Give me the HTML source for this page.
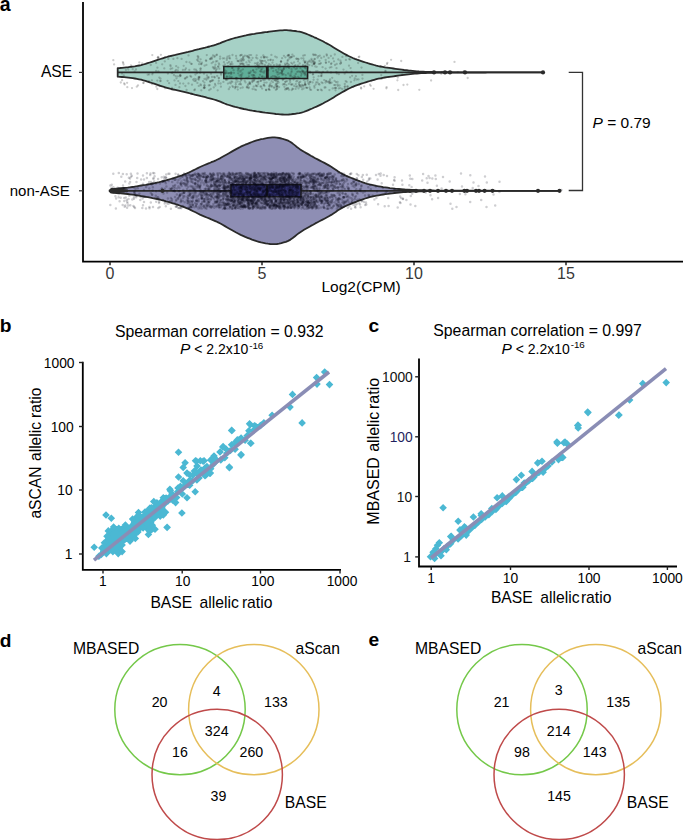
<!DOCTYPE html><html><head><meta charset="utf-8"><style>html,body{margin:0;padding:0;background:#fff;}body{width:685px;height:840px;overflow:hidden}svg{display:block}text{font-family:"Liberation Sans",sans-serif}</style></head><body>
<svg width="685" height="840" viewBox="0 0 685 840">
<rect width="685" height="840" fill="#fff"/>
<text x="-0.3" y="10.8" font-size="19.5" font-weight="bold" fill="#000">a</text>
<path d="M117.7,68.1 L119.8,68 L122,67.8 L124.1,67.6 L126.2,67.4 L128.4,67.2 L130.5,66.9 L132.7,66.6 L134.8,66.3 L136.9,65.9 L139.1,65.5 L141.2,65.1 L143.3,64.5 L145.5,63.9 L147.6,63.2 L149.8,62.5 L151.9,61.8 L154,61.1 L156.2,60.4 L158.3,59.7 L160.4,59 L162.6,58.3 L164.7,57.6 L166.9,57 L169,56.4 L171.1,55.8 L173.3,55.3 L175.4,54.9 L177.5,54.4 L179.7,53.9 L181.8,53.4 L184,52.9 L186.1,52.4 L188.2,51.9 L190.4,51.3 L192.5,50.8 L194.6,50.2 L196.8,49.7 L198.9,49.2 L201.1,48.6 L203.2,48.1 L205.3,47.6 L207.5,47 L209.6,46.5 L211.7,45.9 L213.9,45.3 L216,44.7 L218.1,43.9 L220.3,43.1 L222.4,42.2 L224.6,41.3 L226.7,40.5 L228.8,39.8 L231,39.1 L233.1,38.5 L235.2,37.9 L237.4,37.4 L239.5,36.8 L241.7,36.3 L243.8,35.8 L245.9,35.4 L248.1,34.9 L250.2,34.5 L252.3,34.1 L254.5,33.8 L256.6,33.4 L258.8,33.1 L260.9,32.8 L263,32.5 L265.2,32.2 L267.3,32 L269.4,31.7 L271.6,31.4 L273.7,31.1 L275.9,30.8 L278,30.6 L280.1,30.4 L282.3,30.3 L284.4,30.2 L286.5,30.2 L288.7,30.3 L290.8,30.5 L292.9,30.8 L295.1,31 L297.2,31.4 L299.4,31.7 L301.5,32.2 L303.6,32.8 L305.8,33.6 L307.9,34.5 L310,35.4 L312.2,36.3 L314.3,37.3 L316.5,38.2 L318.6,39.2 L320.7,40.2 L322.9,41.3 L325,42.5 L327.1,43.6 L329.3,44.8 L331.4,46 L333.6,47.4 L335.7,48.7 L337.8,50 L340,51.3 L342.1,52.5 L344.2,53.7 L346.4,54.9 L348.5,56 L350.7,57 L352.8,58 L354.9,58.9 L357.1,59.7 L359.2,60.4 L361.3,61.1 L363.5,61.8 L365.6,62.5 L367.8,63.2 L369.9,63.8 L372,64.4 L374.2,65 L376.3,65.6 L378.4,66.1 L380.6,66.5 L382.7,66.9 L384.8,67.3 L387,67.6 L389.1,67.9 L391.3,68.2 L393.4,68.5 L395.5,68.8 L397.7,69.1 L399.8,69.4 L401.9,69.7 L404.1,70 L406.2,70.2 L408.4,70.5 L410.5,70.7 L412.6,70.9 L414.8,71.1 L416.9,71.3 L419,71.5 L421.2,71.6 L423.3,71.7 L425.5,71.8 L427.6,71.9 L429.7,72 L431.9,72 L434,72.1 L436.1,72.2 L438.3,72.2 L440.4,72.2 L442.6,72.2 L444.7,72.2 L446.8,72.2 L449,72.2 L451.1,72.2 L453.2,72.3 L455.4,72.3 L457.5,72.3 L459.6,72.3 L461.8,72.3 L463.9,72.3 L466.1,72.3 L468.2,72.3 L470.3,72.3 L472.5,72.3 L474.6,72.3 L476.7,72.3 L478.9,72.3 L481,72.3 L483.2,72.3 L485.3,72.3 L487.4,72.4 L489.6,72.4 L491.7,72.4 L493.8,72.4 L496,72.4 L498.1,72.4 L500.3,72.4 L502.4,72.4 L504.5,72.4 L506.7,72.4 L508.8,72.4 L510.9,72.4 L513.1,72.4 L515.2,72.4 L517.4,72.4 L519.5,72.4 L521.6,72.4 L523.8,72.4 L525.9,72.4 L528,72.4 L530.2,72.4 L532.3,72.4 L534.5,72.4 L536.6,72.4 L538.7,72.4 L540.9,72.4 L543,72.4 L543,72.4 L540.9,72.4 L538.7,72.4 L536.6,72.4 L534.5,72.4 L532.3,72.4 L530.2,72.4 L528,72.4 L525.9,72.4 L523.8,72.4 L521.6,72.4 L519.5,72.4 L517.4,72.4 L515.2,72.4 L513.1,72.4 L510.9,72.4 L508.8,72.4 L506.7,72.4 L504.5,72.4 L502.4,72.4 L500.3,72.4 L498.1,72.4 L496,72.4 L493.8,72.4 L491.7,72.4 L489.6,72.4 L487.4,72.4 L485.3,72.5 L483.2,72.5 L481,72.5 L478.9,72.5 L476.7,72.5 L474.6,72.5 L472.5,72.5 L470.3,72.5 L468.2,72.5 L466.1,72.5 L463.9,72.5 L461.8,72.5 L459.6,72.5 L457.5,72.5 L455.4,72.5 L453.2,72.5 L451.1,72.6 L449,72.6 L446.8,72.6 L444.7,72.6 L442.6,72.6 L440.4,72.6 L438.3,72.6 L436.1,72.6 L434,72.7 L431.9,72.8 L429.7,72.8 L427.6,72.9 L425.5,73 L423.3,73.1 L421.2,73.2 L419,73.3 L416.9,73.5 L414.8,73.7 L412.6,73.9 L410.5,74.1 L408.4,74.3 L406.2,74.6 L404.1,74.8 L401.9,75.1 L399.8,75.4 L397.7,75.7 L395.5,76 L393.4,76.3 L391.3,76.6 L389.1,76.9 L387,77.2 L384.8,77.5 L382.7,77.9 L380.6,78.3 L378.4,78.7 L376.3,79.2 L374.2,79.8 L372,80.4 L369.9,81 L367.8,81.6 L365.6,82.3 L363.5,83 L361.3,83.7 L359.2,84.4 L357.1,85.1 L354.9,85.9 L352.8,86.8 L350.7,87.8 L348.5,88.8 L346.4,89.9 L344.2,91.1 L342.1,92.3 L340,93.5 L337.8,94.8 L335.7,96.1 L333.6,97.4 L331.4,98.8 L329.3,100 L327.1,101.2 L325,102.3 L322.9,103.5 L320.7,104.6 L318.6,105.6 L316.5,106.6 L314.3,107.5 L312.2,108.5 L310,109.4 L307.9,110.3 L305.8,111.2 L303.6,112 L301.5,112.6 L299.4,113.1 L297.2,113.4 L295.1,113.8 L292.9,114 L290.8,114.3 L288.7,114.5 L286.5,114.6 L284.4,114.6 L282.3,114.5 L280.1,114.4 L278,114.2 L275.9,114 L273.7,113.7 L271.6,113.4 L269.4,113.1 L267.3,112.8 L265.2,112.6 L263,112.3 L260.9,112 L258.8,111.7 L256.6,111.4 L254.5,111 L252.3,110.7 L250.2,110.3 L248.1,109.9 L245.9,109.4 L243.8,109 L241.7,108.5 L239.5,108 L237.4,107.4 L235.2,106.9 L233.1,106.3 L231,105.7 L228.8,105 L226.7,104.3 L224.6,103.5 L222.4,102.6 L220.3,101.7 L218.1,100.9 L216,100.1 L213.9,99.5 L211.7,98.9 L209.6,98.3 L207.5,97.8 L205.3,97.2 L203.2,96.7 L201.1,96.2 L198.9,95.6 L196.8,95.1 L194.6,94.6 L192.5,94 L190.4,93.5 L188.2,92.9 L186.1,92.4 L184,91.9 L181.8,91.4 L179.7,90.9 L177.5,90.4 L175.4,89.9 L173.3,89.5 L171.1,89 L169,88.4 L166.9,87.8 L164.7,87.2 L162.6,86.5 L160.4,85.8 L158.3,85.1 L156.2,84.4 L154,83.7 L151.9,83 L149.8,82.3 L147.6,81.6 L145.5,80.9 L143.3,80.3 L141.2,79.7 L139.1,79.3 L136.9,78.9 L134.8,78.5 L132.7,78.2 L130.5,77.9 L128.4,77.6 L126.2,77.4 L124.1,77.2 L122,77 L119.8,76.8 L117.7,76.7Z" fill="#a6d1c6" stroke="#2a2a2a" stroke-width="1.8" stroke-linejoin="round"/>
<path d="M109.6,190.3 L111.9,189.6 L114.1,189 L116.4,188.6 L118.6,188.4 L120.9,188.2 L123.2,188 L125.4,187.8 L127.7,187.6 L129.9,187.3 L132.2,187 L134.5,186.7 L136.7,186.3 L139,185.9 L141.3,185.5 L143.5,185.1 L145.8,184.8 L148,184.4 L150.3,184 L152.6,183.5 L154.8,183.1 L157.1,182.6 L159.3,182.1 L161.6,181.5 L163.9,181 L166.1,180.3 L168.4,179.7 L170.6,179 L172.9,178.3 L175.2,177.6 L177.4,176.9 L179.7,176.1 L181.9,175.3 L184.2,174.4 L186.5,173.5 L188.7,172.6 L191,171.5 L193.2,170.4 L195.5,169.3 L197.8,168.1 L200,167 L202.3,166 L204.6,165 L206.8,164.1 L209.1,163.2 L211.3,162.2 L213.6,161.3 L215.9,160.3 L218.1,159.2 L220.4,158.1 L222.6,156.8 L224.9,155.5 L227.2,154.2 L229.4,152.9 L231.7,151.6 L233.9,150.4 L236.2,149.1 L238.5,147.9 L240.7,146.7 L243,145.7 L245.2,144.7 L247.5,143.8 L249.8,142.9 L252,142 L254.3,141.2 L256.6,140.4 L258.8,139.8 L261.1,139.2 L263.3,138.8 L265.6,138.3 L267.9,137.9 L270.1,137.6 L272.4,137.4 L274.6,137.4 L276.9,137.6 L279.2,138 L281.4,138.5 L283.7,139.2 L285.9,139.8 L288.2,140.7 L290.5,142 L292.7,143.6 L295,145.4 L297.2,147.2 L299.5,148.9 L301.8,150.4 L304,151.8 L306.3,153.1 L308.6,154.4 L310.8,155.7 L313.1,156.9 L315.3,158.2 L317.6,159.4 L319.9,160.6 L322.1,161.7 L324.4,162.9 L326.6,164.1 L328.9,165.4 L331.2,166.7 L333.4,168.2 L335.7,169.7 L337.9,171.3 L340.2,172.7 L342.5,174 L344.7,175.1 L347,176.2 L349.2,177.1 L351.5,178 L353.8,178.9 L356,179.8 L358.3,180.7 L360.5,181.5 L362.8,182.3 L365.1,183.1 L367.3,183.8 L369.6,184.4 L371.9,184.9 L374.1,185.4 L376.4,185.9 L378.6,186.3 L380.9,186.7 L383.2,187.1 L385.4,187.4 L387.7,187.7 L389.9,188.1 L392.2,188.3 L394.5,188.6 L396.7,188.8 L399,189 L401.2,189.2 L403.5,189.4 L405.8,189.6 L408,189.7 L410.3,189.8 L412.5,189.9 L414.8,190 L417.1,190.1 L419.3,190.2 L421.6,190.2 L423.9,190.3 L426.1,190.4 L428.4,190.4 L430.6,190.5 L432.9,190.5 L435.2,190.6 L437.4,190.6 L439.7,190.6 L441.9,190.6 L444.2,190.6 L446.5,190.6 L448.7,190.6 L451,190.6 L453.2,190.6 L455.5,190.7 L457.8,190.7 L460,190.7 L462.3,190.7 L464.5,190.7 L466.8,190.7 L469.1,190.7 L471.3,190.7 L473.6,190.7 L475.9,190.7 L478.1,190.7 L480.4,190.7 L482.6,190.7 L484.9,190.7 L487.2,190.7 L489.4,190.7 L491.7,190.7 L493.9,190.7 L496.2,190.8 L498.5,190.8 L500.7,190.8 L503,190.8 L505.2,190.8 L507.5,190.8 L509.8,190.8 L512,190.8 L514.3,190.8 L516.5,190.8 L518.8,190.8 L521.1,190.8 L523.3,190.8 L525.6,190.8 L527.8,190.8 L530.1,190.8 L532.4,190.8 L534.6,190.8 L536.9,190.8 L539.2,190.8 L541.4,190.8 L543.7,190.8 L545.9,190.8 L548.2,190.8 L550.5,190.8 L552.7,190.8 L555,190.8 L557.2,190.8 L559.5,190.8 L559.5,190.8 L557.2,190.8 L555,190.8 L552.7,190.8 L550.5,190.8 L548.2,190.8 L545.9,190.8 L543.7,190.8 L541.4,190.8 L539.2,190.8 L536.9,190.8 L534.6,190.8 L532.4,190.8 L530.1,190.8 L527.8,190.8 L525.6,190.8 L523.3,190.8 L521.1,190.8 L518.8,190.8 L516.5,190.8 L514.3,190.8 L512,190.8 L509.8,190.8 L507.5,190.8 L505.2,190.8 L503,190.8 L500.7,190.8 L498.5,190.8 L496.2,190.8 L493.9,190.9 L491.7,190.9 L489.4,190.9 L487.2,190.9 L484.9,190.9 L482.6,190.9 L480.4,190.9 L478.1,190.9 L475.9,190.9 L473.6,190.9 L471.3,190.9 L469.1,190.9 L466.8,190.9 L464.5,190.9 L462.3,190.9 L460,190.9 L457.8,190.9 L455.5,190.9 L453.2,191 L451,191 L448.7,191 L446.5,191 L444.2,191 L441.9,191 L439.7,191 L437.4,191 L435.2,191 L432.9,191.1 L430.6,191.1 L428.4,191.2 L426.1,191.2 L423.9,191.3 L421.6,191.4 L419.3,191.4 L417.1,191.5 L414.8,191.6 L412.5,191.7 L410.3,191.8 L408,191.9 L405.8,192 L403.5,192.2 L401.2,192.4 L399,192.6 L396.7,192.8 L394.5,193 L392.2,193.3 L389.9,193.5 L387.7,193.9 L385.4,194.2 L383.2,194.5 L380.9,194.9 L378.6,195.3 L376.4,195.7 L374.1,196.2 L371.9,196.7 L369.6,197.2 L367.3,197.8 L365.1,198.5 L362.8,199.3 L360.5,200.1 L358.3,200.9 L356,201.8 L353.8,202.7 L351.5,203.6 L349.2,204.5 L347,205.4 L344.7,206.5 L342.5,207.6 L340.2,208.9 L337.9,210.3 L335.7,211.9 L333.4,213.4 L331.2,214.9 L328.9,216.2 L326.6,217.5 L324.4,218.7 L322.1,219.9 L319.9,221 L317.6,222.2 L315.3,223.4 L313.1,224.7 L310.8,225.9 L308.6,227.2 L306.3,228.5 L304,229.8 L301.8,231.2 L299.5,232.7 L297.2,234.4 L295,236.2 L292.7,238 L290.5,239.6 L288.2,240.9 L285.9,241.8 L283.7,242.4 L281.4,243.1 L279.2,243.6 L276.9,244 L274.6,244.2 L272.4,244.2 L270.1,244 L267.9,243.7 L265.6,243.3 L263.3,242.8 L261.1,242.4 L258.8,241.8 L256.6,241.2 L254.3,240.4 L252,239.6 L249.8,238.7 L247.5,237.8 L245.2,236.9 L243,235.9 L240.7,234.9 L238.5,233.7 L236.2,232.5 L233.9,231.2 L231.7,230 L229.4,228.7 L227.2,227.4 L224.9,226.1 L222.6,224.8 L220.4,223.5 L218.1,222.4 L215.9,221.3 L213.6,220.3 L211.3,219.4 L209.1,218.4 L206.8,217.5 L204.6,216.6 L202.3,215.6 L200,214.6 L197.8,213.5 L195.5,212.3 L193.2,211.2 L191,210.1 L188.7,209 L186.5,208.1 L184.2,207.2 L181.9,206.3 L179.7,205.5 L177.4,204.7 L175.2,204 L172.9,203.3 L170.6,202.6 L168.4,201.9 L166.1,201.3 L163.9,200.6 L161.6,200.1 L159.3,199.5 L157.1,199 L154.8,198.5 L152.6,198.1 L150.3,197.6 L148,197.2 L145.8,196.8 L143.5,196.5 L141.3,196.1 L139,195.7 L136.7,195.3 L134.5,194.9 L132.2,194.6 L129.9,194.3 L127.7,194 L125.4,193.8 L123.2,193.6 L120.9,193.4 L118.6,193.2 L116.4,193 L114.1,192.6 L111.9,192 L109.6,191.3Z" fill="#8e8eb4" stroke="#2a2a2a" stroke-width="1.8" stroke-linejoin="round"/>
<line x1="117.7" y1="72.4" x2="543" y2="72.4" stroke="#2a2a2a" stroke-width="1.8"/>
<line x1="109.6" y1="190.8" x2="559.5" y2="190.8" stroke="#2a2a2a" stroke-width="1.8"/>
<rect x="223.8" y="66.5" width="83.8" height="12" fill="#5fae98" stroke="#222" stroke-width="1.5"/>
<line x1="267.3" y1="66.5" x2="267.3" y2="78.5" stroke="#222" stroke-width="2.8"/>
<rect x="231" y="184.7" width="70" height="12.1" fill="#3a3a82" stroke="#222" stroke-width="1.5"/>
<line x1="267" y1="184.7" x2="267" y2="196.8" stroke="#222" stroke-width="2.2"/>
<g stroke="#1a1a1a" stroke-opacity="0.22" stroke-width="2.3" stroke-linecap="round" fill="none"><path d="M124.2 83.4h0M359.3 56.7h0M131.4 66.6h0"/><path d="M397.4 80.3h0M139.3 62.4h0M114.1 64.4h0"/><path d="M386.4 88.3h0M157.9 57.8h0M122.9 62.1h0"/><path d="M136.8 86.7h0M419.3 89.8h0M113.3 60.2h0"/><path d="M168.5 56.2h0M138 85.4h0M454.5 61.9h0"/><path d="M370.8 85.8h0M143.7 82.8h0M467.7 78h0"/><path d="M152.1 84.2h0M120.8 82.5h0M388.8 77.1h0"/><path d="M361 87.7h0M123.6 64.6h0M384.9 65.9h0"/><path d="M123.2 63.2h0M361.2 88.5h0M380.3 66.4h0"/><path d="M142.2 63.4h0M160.9 54.8h0M463.9 71.1h0"/><path d="M371.2 81.1h0M373.6 88.8h0M386.6 87.2h0"/><path d="M364.2 86.3h0M158.1 56.8h0M441.2 73.8h0"/><path d="M165 88.3h0M387.4 62.8h0M407.3 84.6h0"/><path d="M158.7 57.7h0M359.3 84.8h0M397.8 77.5h0"/><path d="M143.2 83.1h0M387 64h0M442.1 72h0"/><path d="M165.1 57.1h0M161.6 86.3h0M381.6 78.9h0"/><path d="M152.3 55.1h0M159.5 86h0M457.8 72.1h0"/><path d="M403.5 85h0M130.9 65.5h0M431.1 80.5h0"/><path d="M157.8 57.6h0M358.7 57.1h0M401.2 61h0"/><path d="M391.1 59.8h0M127.1 82.8h0"/><path d="M156.3 86.7h0M122.1 80.2h0"/><path d="M398.2 90h0M132 88.1h0"/><path d="M157.3 89h0M127.3 87.2h0"/><path d="M370 84.7h0M124.7 84.4h0"/></g>
<g stroke="#1a1a1a" stroke-opacity="0.22" stroke-width="2.3" stroke-linecap="round" fill="none"><path d="M285.7 75.2h0M337.6 84.4h0M250.2 84h0M280.6 73.1h0M326.3 81.5h0M346.7 81.9h0M241.2 77.2h0M334.2 85.1h0M355.9 76.2h0M326.6 54.5h0M303.4 58.5h0M245.5 82.4h0M249.6 62.2h0M306.9 87.8h0M291 57.6h0M224.8 64.5h0M315 62.5h0M338.8 88.4h0M303.8 80.1h0M243.5 56.6h0M212 77h0M254.4 78.1h0M354.4 80.3h0M330.1 79.5h0M237.9 70.5h0M322.6 83.1h0M325.5 82.5h0M325.6 68.6h0M281.1 69.7h0M213.2 62h0M232.3 81.9h0M200.6 68.9h0M306.2 68.7h0M238.5 70.5h0M232.5 55h0M241.2 80h0"/><path d="M332.7 88.4h0M288.7 67.3h0M241.3 79.4h0M198.2 79.1h0M243.5 65.1h0M278.4 65.4h0M253.7 86.7h0M311.5 58.8h0M322.6 67.2h0M331.6 82.7h0M282.1 58.2h0M171.2 56.1h0M256.7 55.3h0M213.1 80.3h0M231.8 77.1h0M261.8 63.1h0M295.8 74h0M159.3 77.6h0M248.5 57h0M260.9 80.8h0M243 69.3h0M307.2 87.8h0M150.8 65h0M192 84.7h0M260 74.8h0M180 83.4h0M258.4 66.6h0M271.2 77.2h0M266.2 90h0M263.8 57.1h0M167.6 80.8h0M298 61.3h0M331.5 63.3h0M305.6 74.1h0M286.6 89.2h0M151.9 80.3h0"/><path d="M309.4 65.1h0M270.4 83.4h0M204.2 87.2h0M212.2 57.5h0M281.9 71.2h0M239.6 75.5h0M216 70.4h0M324 56.7h0M241.6 59.2h0M206.4 78.4h0M236.2 77.9h0M271.6 81.2h0M319.5 60.9h0M334.6 80.9h0M272.9 82.2h0M328.6 57.9h0M290.4 79.5h0M261.3 86.6h0M261.2 57.4h0M249 64.9h0M298.6 59.3h0M296.1 86.7h0M210 59.1h0M240.4 59.9h0M341 62.4h0M231.7 62.2h0M234 72.9h0M249.7 83.6h0M207.9 77.1h0M340.7 63.3h0M217.7 90.3h0M264.1 57.8h0M228.6 73.1h0M250.8 71.5h0M385.5 70.9h0M218.8 78.3h0"/><path d="M220.6 83.5h0M266.6 82.6h0M314.4 64.1h0M342.2 89h0M295.8 84.1h0M231.2 72.3h0M169.1 83.2h0M272.5 62.7h0M240.3 71.7h0M289.7 56.9h0M178.3 81.1h0M305.3 79.3h0M275.6 85.3h0M218.2 66.6h0M233.1 87.1h0M305.6 66.1h0M351.4 71.8h0M289.1 64.8h0M305 82.2h0M278.8 69.7h0M310.1 81.8h0M214.6 56h0M206.8 55.1h0M156.1 62.9h0M230.7 64h0M305.1 84.4h0M239.2 61.4h0M307.2 76.5h0M285.7 81.6h0M171.9 73.1h0M195.4 74.5h0M197.7 56.2h0M260.3 71.2h0M240.2 55.6h0M349.2 59.2h0M152.3 74.3h0"/><path d="M236.4 58.5h0M226.4 71.3h0M250 82.7h0M276.8 72.4h0M244.9 55.7h0M350.1 59.6h0M215.5 64.6h0M336.3 72.1h0M191.7 63.9h0M218.8 80.9h0M307.8 67.7h0M211.8 58.9h0M252.5 80.2h0M304.9 84.7h0M271.8 67.5h0M321.6 82.3h0M260.5 67.1h0M275.8 89.8h0M267.5 76.4h0M350.1 77.3h0M167.9 73.6h0M201.1 64h0M264.9 65h0M321.3 75.9h0M331 64h0M282.5 74.9h0M177.8 76.3h0M176.5 78.3h0M313.9 55.1h0M207 75.5h0M262 60.8h0M362.5 78.6h0M345.1 86.3h0M287.7 64h0M269.6 89.9h0M195.7 81.1h0"/><path d="M326 80.8h0M213.7 68.2h0M280.1 67.2h0M211.7 63.2h0M270.6 64.9h0M258.5 81.6h0M336.8 73.4h0M157.3 80.6h0M285.2 82h0M276.8 78.6h0M200.6 68.4h0M229 73.3h0M276.8 81.4h0M172.3 68.3h0M288 88.2h0M304.8 55.2h0M256.6 63.3h0M177.4 58.2h0M240.6 63.9h0M330.9 56h0M303.8 60.7h0M238.6 68.4h0M260.5 86.5h0M336 88.1h0M292.4 63.8h0M237.2 78.5h0M219.3 68.7h0M229.5 76.5h0M198.2 58.5h0M264.5 86h0M248.9 76.3h0M294.7 66.1h0M346.2 56.2h0M210.7 89h0M284.4 83.8h0M285.4 57.3h0"/><path d="M315.7 84.5h0M296.3 81.4h0M283.6 69.2h0M328.8 81.8h0M306.3 72h0M270.7 59.6h0M320.9 89.7h0M147.7 74.7h0M314.8 58.8h0M349 65.7h0M199.6 61.9h0M273.3 79.2h0M302 70.4h0M266 90h0M273.9 65.1h0M299.8 71.8h0M295.4 65.1h0M279.3 73.5h0M315 54.7h0M246.4 62.4h0M317.6 89.8h0M307.2 63.5h0M204.5 79h0M385.4 71.4h0M321.5 73h0M286.4 85.1h0M230.8 83.4h0M314.2 63.6h0M274.3 80h0M269.9 85.2h0M280 64.7h0M196.7 70.8h0M246.9 56h0M188.5 55.4h0M299.7 63.5h0M186.4 62h0"/><path d="M310 89.5h0M214.8 77.4h0M287.7 66.4h0M288.9 83.8h0M335.3 85.1h0M268.9 63.8h0M190.4 76h0M225.2 73.2h0M241.7 54.9h0M247.8 85.4h0M197 73.2h0M304.7 66.5h0M249.5 58.1h0M236.2 78.1h0M248.4 88.2h0M321.3 76.1h0M318.3 56.2h0M222.8 58.4h0M248.9 73.6h0M229.3 58.1h0M262.1 88.6h0M264.9 60.8h0M231.4 81.3h0M281.2 61.6h0M252.6 58h0M261.5 69h0M208.1 78.4h0M262.5 67.9h0M298.5 88.4h0M302.1 89.3h0M231.6 72.9h0M334.6 88.1h0M345.9 59.9h0M297.4 80.8h0M241.2 61.3h0M203 81.1h0"/><path d="M263.2 80h0M244.6 66.3h0M292.4 54.6h0M279.1 77.1h0M201.4 64.1h0M329.3 83.2h0M281.7 72.6h0M227.4 79.4h0M321.9 90.3h0M229 62h0M180.3 75.3h0M331 72.5h0M317.5 71.1h0M239.1 84.3h0M309.6 87.5h0M293.9 56.2h0M242.2 63.6h0M217.2 61.2h0M317.6 57.7h0M329.5 81h0M171.9 87.8h0M337.8 85.8h0M313.5 61.4h0M289.9 75.8h0M309.5 60.7h0M324.6 87.5h0M174.5 80.4h0M263.9 84.8h0M253 77h0M257.3 86.2h0M156.1 70.9h0M187.2 77h0M254.5 76.2h0M303.1 71.5h0M238.2 73.3h0M334 61.3h0"/><path d="M237.8 89.6h0M122 73.5h0M201.9 62.7h0M248.8 87.4h0M344.8 84h0M301.5 87.2h0M264.5 82.7h0M214.2 77h0M312.2 65.7h0M261.5 69.8h0M335.5 88h0M194.9 89.5h0M339.6 85.5h0M301.5 74h0M325.7 60h0M303 65h0M292.5 88.7h0M327.6 81.9h0M307.7 81.3h0M266.2 62.4h0M292.4 84.2h0M288.6 55.3h0M212.9 67.2h0M295.6 88.9h0M225.1 70.4h0M232.4 86.1h0M261.5 63.4h0M237.7 60.9h0M229.8 87.3h0M200.4 70.6h0M241.2 74.7h0M183.3 83.6h0M249.4 82.5h0M236.2 79.8h0M123.8 75.4h0M242.3 73.5h0"/><path d="M230.5 64.4h0M318.6 76.2h0M259.2 66.3h0M256 57.6h0M305.3 65.3h0M276.7 85.7h0M279.7 65.6h0M276.6 66.5h0M200.1 72.8h0M289.5 58.5h0M229.4 55.9h0M208.9 77.3h0M248.7 72.7h0M260.7 80.8h0M208.8 85.4h0M237.6 87h0M216.8 54.7h0M214.6 56.8h0M257.6 66.7h0M291.4 72.3h0M225.3 73.5h0M287.6 60.9h0M284.4 86.8h0M276.8 85.7h0M198.5 77.5h0M308.3 83.5h0M220.1 56.7h0M252.6 89h0M247.6 56.5h0M243.7 59.5h0M305.9 87.6h0M240.2 81.8h0M303.6 71.7h0M288.1 66.4h0M276.7 89.2h0M243.5 63.8h0"/><path d="M227.1 73.2h0M204 73.7h0M224.3 58.3h0M220.9 73.4h0M312.8 74.3h0M255.5 72.5h0M290.9 84.3h0M280.9 61.6h0M307.9 62h0M186.4 77.6h0M235.5 87.1h0M310.3 72.5h0M199.3 77.1h0M168.3 58.9h0M198.8 79.7h0M209.2 90.2h0M275.5 80.6h0M258.7 68.2h0M298.8 83.5h0M176.2 66.2h0M285.3 65.2h0M310.4 81.8h0M256 89.9h0M352.2 86.8h0M314.5 59.4h0M289.2 68.1h0M300.5 86.1h0M204.4 85.3h0M271.5 86.5h0M304.9 62.6h0M227.9 83.6h0M344.8 88.7h0M262.6 76.5h0M157.4 67.7h0M179.4 87.2h0M182.9 69.9h0"/><path d="M260.8 62.1h0M230 58.4h0M252.2 82h0M160.4 81.1h0M199.2 77.9h0M329.8 67.6h0M240.8 55.1h0M204.4 82.6h0M328.9 61.9h0M248.6 57.5h0M318.1 90.1h0M291.2 56.8h0M304.9 67.9h0M330.3 83.2h0M193.1 79.7h0M305.6 85h0M309.5 82.8h0M305.6 61.3h0M254.1 72.2h0M326 62.9h0M246.4 77.9h0M305 62.4h0M253.2 70.3h0M283.5 69.2h0M295.5 69.1h0M303.9 73.4h0M340.4 88.1h0M179.8 76.3h0M294.2 86h0M191.2 76.8h0M256.5 69.3h0M336.5 68.2h0M258.9 77.5h0M250.1 73h0M214.8 66.7h0M309.2 84.4h0"/><path d="M267.2 57.4h0M329.4 90.1h0M185 69.8h0M325.5 87.4h0M256.3 86.1h0M253 70.4h0M358.1 63h0M295.6 77.2h0M214.5 68.9h0M198 60.9h0M283.8 66.9h0M296.5 58.8h0M199.3 77h0M338.3 59.5h0M344.7 73.7h0M205.9 60.5h0M170.6 69h0M301.8 85h0M321.3 58h0M240.6 88.1h0M287.9 59.8h0M242.5 63.7h0M317.5 82.3h0M240.5 63.8h0M221.1 74.7h0M248.7 60.6h0M230.8 77.6h0M276.9 83.8h0M276.5 77h0M313.8 63.9h0M305.2 83.8h0M286.4 88.6h0M251.1 55.1h0M279.1 87.1h0M241.5 75.5h0M293.9 78.2h0"/><path d="M276 70.2h0M268.7 89.2h0M362.4 74.9h0M264.7 77.5h0M314.3 86.1h0M340.4 60.7h0M261.3 60.8h0M236.1 56h0M277.9 82.8h0M290.2 82h0M212.2 80.5h0M345.7 81.1h0M297.2 71.9h0M227.5 63.1h0M225.5 72.6h0M337.6 81.9h0M301.1 75.8h0M276.8 57.4h0M278.6 82.5h0M264 72.7h0M226.6 76.6h0M228.8 89.2h0M204.5 88h0M269.4 85.7h0M231.1 74.2h0M300.3 81.7h0M274.6 87.6h0M352.1 75.8h0M189.3 69.9h0M240.3 83.8h0M255.9 85.4h0M175.2 71.1h0M254.9 63.3h0M228.1 66.2h0M173.4 58.9h0M276.3 70.4h0"/><path d="M312.6 82.4h0M319.8 55.7h0M219.3 64.6h0M274.6 76.1h0M287 81.2h0M172.6 72.3h0M285.1 63.7h0M344.6 86.8h0M287.6 55.8h0M319.4 72.4h0M258.2 84.1h0M319.5 84.5h0M316.7 66.8h0M253.6 75.1h0M361.5 67.6h0M282.7 70.6h0M354.8 78.4h0M315.3 66.5h0M277.8 74.6h0M218.9 77.8h0M264.3 56.8h0M258.1 81.9h0M335.5 90.3h0M299.5 85h0M347.6 86.5h0M297.2 86.5h0M269.1 79.8h0M277 87h0M313.6 79.8h0M309.6 61.6h0M330 82.3h0M277.2 88.5h0M201.3 90.3h0M243.1 57.5h0M152.7 73.1h0M285.6 64.2h0"/><path d="M289 55h0M287.8 88.4h0M293.9 67.4h0M238.4 68.4h0M313.7 77.3h0M257.9 62.7h0M286.8 88.4h0M273.2 68.2h0M282.9 84.5h0M247.8 78.2h0M332.2 77.8h0M307.2 75.2h0M340.1 63.7h0M223.4 81.9h0M215.4 85.5h0M242 60.5h0M264.7 79.9h0M263.7 85.2h0M291.3 62.8h0M254.2 79.8h0M271.4 54.9h0M267.6 70.6h0M335 65h0M296.9 68.5h0M229.7 82.7h0M251.4 60.2h0M175.7 76.2h0M287.1 63.2h0M340.9 63.2h0M136 69.5h0M338.8 74.2h0M263.1 61.1h0M170.6 66.3h0M283.9 55.8h0M342.4 56.9h0M188.5 83.4h0"/><path d="M218.8 63.3h0M304.7 73.5h0M237.7 81.5h0M305 75h0M271.4 68.3h0M270.4 60.2h0M213 55.3h0M314.5 87.7h0M186.6 90h0M244.7 80.8h0M247.5 64.8h0M251.8 75.1h0M195.9 79.5h0M197 59.8h0M269.3 86.8h0M346.5 71.7h0M254 80.8h0M283.8 79.1h0M292.9 89.1h0M318.7 84h0M289.6 80.2h0M200.6 59.3h0M294.4 77.9h0M257.1 64.7h0M298.1 58.8h0M148.9 81.2h0M194.3 69.5h0M241.3 70.4h0M185.3 78.4h0M325.8 62.3h0M235.6 86.8h0M275.2 56.6h0M303.6 88.5h0M277.5 86.1h0M257.3 58.4h0M127.9 67.8h0"/><path d="M206.4 64.9h0M181.6 58.9h0M327.4 71.3h0M149.1 74.4h0M299.4 82.3h0M350.6 68.1h0M170.4 65.2h0M291 75.8h0M290.5 74.5h0M272.7 76.2h0M298.1 76.8h0M288.2 73.5h0M183.7 65.8h0M266.3 66.9h0M268.2 60.2h0M204.6 87.6h0M300.9 72.1h0M317.6 79.7h0M282.6 79h0M318.9 63.9h0M218.2 66.7h0M259.7 64.1h0M164.3 68.4h0M320.9 63.1h0M200.5 84.4h0M358.5 79.4h0M331.4 67.2h0M277.7 78.5h0M225.9 79.4h0M204.5 85.4h0M301.7 72.1h0M299.6 86.6h0M277.9 72.1h0M204.6 65.7h0M220 58.8h0M134.6 71.3h0"/><path d="M284.4 84.4h0M275.9 83.9h0M294.6 75.9h0M246.9 87h0M220.9 86.7h0M227.5 56.7h0M253.6 75.1h0M283.6 74.1h0M286.3 67.4h0M215.9 61.5h0M185.4 86h0M211.5 80.9h0M381.2 75.1h0M194.3 90.2h0M336 82.2h0M271.7 86h0M269 89.3h0M291.7 90.1h0M255.4 66.5h0M265.6 57.2h0M356.8 79.5h0M289 89.7h0M291.7 71.1h0M303.5 85.7h0M313.1 74.2h0M303.2 55.7h0M262.4 72h0M305 62.2h0M211 73.8h0M261.8 76.7h0M227 58.2h0M291.6 69.2h0M294.1 62.4h0M296.6 58.7h0M298 65.3h0M132.7 69.2h0"/><path d="M163.1 86.6h0M268.3 70h0M195.9 69.6h0M194.4 80.9h0M215.8 71.7h0M315.9 71.3h0M307.6 79.7h0M215 83.9h0M314.6 62.8h0M225.9 79.5h0M301.4 58.3h0M302.8 66.3h0M191.2 63.8h0M210.1 81.5h0M162.2 64.3h0M185.9 68.5h0M302.9 85.6h0M288.1 55.2h0M209.7 85.2h0M307.1 71.2h0M235.8 82.5h0M197.4 82.9h0M282.1 71h0M242.7 87.5h0M194.4 78.8h0M213.8 87.4h0M311.4 62.4h0M282.8 80.1h0M320.2 63.8h0M292.6 77.1h0M199.1 64.2h0M405.7 72.7h0M313.1 54.5h0M180.6 75.9h0M226.6 79.8h0M128.3 69.6h0"/><path d="M160.5 80.9h0M324.2 80.1h0M321.6 74.5h0M292.1 56.8h0M246.9 87.4h0M293.5 79.5h0M316.2 82.3h0M275.5 76.9h0M312.7 61h0M242.7 58.6h0M309.8 71.7h0M305 72.3h0M210.4 81.5h0M323 71.9h0M237.9 61h0M276.7 86.8h0M180.2 75h0M254.2 78.3h0M232.6 68.1h0M260 60.5h0M235.8 84.5h0M198.3 56.9h0M307.7 64.4h0M178.2 67.6h0M273 60.2h0M302.8 71.6h0M176 69.8h0M313.7 63.8h0M334.8 54.5h0M268 65.7h0M255.4 78.1h0M203.8 88.1h0M223.9 62.2h0M217.2 76h0M333 58.4h0M125.9 69.9h0"/><path d="M268.3 66.4h0M248.3 84.2h0M347.4 86.7h0M256.9 82.1h0M210.5 59h0M299.4 77.9h0M300.5 68.2h0M160.5 78.7h0M239.4 66h0M262.6 64.1h0M316 55.2h0M298.5 71.3h0M278.5 67.9h0M267.1 67.5h0M281 61.5h0M311.1 89.9h0M278 79h0M277.9 81.2h0M235.1 88.3h0M249.4 55.1h0M227.1 76.6h0M206.4 79.8h0M216.6 55.1h0M198.8 85.9h0M158.4 71.4h0M232.5 64.1h0M281.9 72.7h0M275.4 80h0M164.8 61.4h0M206.3 60.8h0M284.1 68h0M313.6 62.3h0M223.3 66h0M226.8 59.9h0M285.8 78h0M402.2 74.6h0"/><path d="M264.5 71.1h0M282.1 73.8h0M336.7 64h0M273.2 71.1h0M243.5 60.4h0M285.1 89.5h0M189.6 62.3h0M311.5 60.1h0M299.6 85.1h0M177.8 70.5h0M291.7 84.8h0M258.9 78.2h0M260.8 71.6h0M210.9 57.9h0M173.9 75h0M230.4 72.8h0M276.7 64.3h0M252.7 81.3h0M258.1 65.1h0M273.7 87.5h0M175.5 84.9h0M232.1 67.9h0M350.9 82h0M215.6 68.1h0M276.6 79.6h0M263.3 55.5h0M326.9 55.5h0M218.4 83.4h0M241 84.4h0M201 85.3h0M343.5 69.6h0M254.6 89.3h0M233.6 70.2h0M216.8 69h0M184.9 78.6h0"/></g>
<g stroke="#0a0a18" stroke-opacity="0.2" stroke-width="2.5" stroke-linecap="round" fill="none"><path d="M130 178.5h0M146 208.5h0M409.8 175.4h0M165.8 177.2h0M178.2 208h0M149.4 207h0M141.1 179.6h0M128.3 205.5h0M410.3 178.7h0M478.5 185.9h0"/><path d="M342 173.2h0M168.6 203.8h0M150.2 174.9h0M135.7 196h0M153.1 173.1h0M163.9 176.7h0M144 179.6h0M126.7 174.3h0M449.7 181.6h0M412.2 193.7h0"/><path d="M354.9 202.7h0M134.2 207h0M364.1 202h0M361.6 201.3h0M360.6 207.2h0M179.4 208h0M344 173.7h0M127.5 203.2h0M436.9 185.8h0M427.5 182.8h0"/><path d="M441.6 188.5h0M137.5 173.6h0M165.4 177.6h0M362.2 201.1h0M143 205.3h0M365.2 205h0M178.1 174.6h0M133.9 197.2h0M402 180.5h0M459.9 193.9h0"/><path d="M358.4 175.2h0M349.4 206.3h0M151 182h0M161.7 177.2h0M394.6 180.7h0M344 206.8h0M355 206.9h0M113.4 187.3h0M499.4 192h0M495.2 205.5h0"/><path d="M184 173.5h0M170.9 208.8h0M366.8 174.7h0M181.2 208.3h0M175.6 173.7h0M377.6 179.6h0M153.5 177.9h0M111.3 192.1h0M472.7 188h0M429.6 178.1h0"/><path d="M393 184.8h0M369 178.6h0M128.5 199.1h0M169.5 173.7h0M159 203.1h0M142.3 208h0M360 204.6h0M124.2 198h0M465.4 194.3h0M486.8 182.6h0"/><path d="M153.4 179.1h0M374.4 199.6h0M363.2 179.8h0M370.3 178.4h0M177.4 205.5h0M154.6 176.2h0M142.6 198.5h0M133.4 206.1h0M461 173.5h0M397.7 207.5h0"/><path d="M362.9 175h0M118.8 173h0M356.8 204h0M378.1 204.2h0M179.7 207.9h0M394.1 180h0M164.7 180.6h0M125.3 205.5h0M470.2 202.1h0M450.5 203.8h0"/><path d="M380.5 175.7h0M121.3 176.7h0M158.1 179h0M352.6 178.5h0M438.1 197.9h0M415.3 205.9h0M355.5 207.6h0M113.3 173.8h0M411.6 187.1h0M423.1 174h0"/><path d="M140.3 200.1h0M124.3 201h0M154.3 181.6h0M367.3 181.4h0M361.9 176.9h0M143 183.8h0M176.6 206.5h0M130.3 205.3h0M470.3 175.3h0M485 176.4h0"/><path d="M143 175.4h0M178.4 174.9h0M149.5 208.3h0M164.2 178.8h0M349.9 174.2h0M355.4 205.2h0M380.7 173.5h0M128.9 177.8h0M430.5 195.2h0M410.8 196.1h0"/><path d="M376.4 198h0M159.7 207h0M164.7 203.5h0M366.3 204.6h0M176.4 206.8h0M125.8 197.5h0M132.3 199.5h0M120.7 197.8h0M412.3 179.1h0M400.5 202.9h0"/><path d="M144 202.1h0M135 208h0M425.8 192.4h0M129.3 183.4h0M347.8 207.8h0M166.2 174.5h0M115.9 208.5h0M130.1 181.9h0M422.2 180.6h0M561.4 189.9h0"/><path d="M383.7 175.1h0M368.9 179.7h0M153 207h0M356.7 178.5h0M118.6 194.2h0M359.1 203.2h0M165 202.1h0M127.1 207.7h0M481.2 200.1h0M538.5 191.3h0"/><path d="M353.4 204.7h0M153.6 183.1h0M167.2 203.6h0M356.8 174h0M401.2 197.9h0M137.2 177.9h0M388.2 197.9h0M118.6 197.3h0M435.4 175.4h0"/><path d="M357 178.6h0M146.9 178h0M149.1 182h0M140.6 197h0M131.8 175.8h0M351.3 173.4h0M110.3 205h0M115.4 196.2h0M486.5 206.9h0"/><path d="M119.6 201.2h0M387 175.9h0M123 185.4h0M122.9 174.1h0M347 176.2h0M150.8 202.4h0M111.8 184.8h0M462 186.6h0M499.5 181.7h0"/><path d="M154.3 173.2h0M376 174.9h0M129.3 195.7h0M156.2 201.8h0M136.2 197.3h0M388.6 206h0M111.6 187.8h0M406.4 200.1h0M493.5 194.6h0"/><path d="M399.9 202.3h0M435.8 179h0M394.6 177.3h0M428.5 175.9h0M145.1 196.8h0M158.3 208.1h0M134 198.7h0M432.1 199.3h0M443 177.1h0"/><path d="M175.7 206.4h0M165.8 206.2h0M378.8 174.1h0M350.6 173.8h0M366 202.6h0M166.5 178.2h0M116.1 198.6h0M409.3 185.2h0M452.3 208.8h0"/><path d="M351.1 208.7h0M384.7 206.2h0M125.2 181.4h0M127.2 201.7h0M131.1 176.8h0M122.7 205.1h0M130.9 173.8h0M403 199.1h0M456.5 207.1h0"/><path d="M146.9 173.2h0M402.4 184.7h0M126.7 200h0M381.7 183.3h0M168.4 173.8h0M150.5 173.6h0M124.7 206.7h0M426.7 178.2h0M400.1 196.4h0"/><path d="M117.7 187.7h0M136.5 182.1h0M159.2 201.8h0M402.9 198.8h0M181.2 207.6h0M432.3 178.4h0M110.3 185.5h0M410.5 204.4h0M473.5 182.4h0"/></g>
<g stroke="#0a0a18" stroke-opacity="0.23" stroke-width="2.5" stroke-linecap="round" fill="none"><path d="M243.2 206.9h0M351.4 198.3h0M279.5 194.7h0M279.2 174.1h0M241.6 206.1h0M250.5 201.5h0M246.9 200h0M288 203.2h0M282.7 205.7h0M232.9 208.6h0M263 193.2h0M254.9 188.8h0M259.5 184.7h0M289.3 198h0M328.7 203.8h0M252.9 207h0M280.2 185h0M227.7 187.4h0M249.5 182.5h0M263.5 179.1h0M250.1 188.8h0M255.1 203.7h0M297.4 189.1h0M282.3 180.1h0M292.7 184.3h0M282.9 203.7h0M288.5 202.4h0M264.7 179.1h0M270.7 193.9h0M211.8 176h0M161.8 188.8h0M235.9 185.3h0M261.5 190.6h0M244 201.9h0M289.9 195.4h0M346.3 196.5h0M256.9 200.8h0M244.3 179.6h0M194.8 178.4h0M232.1 185.9h0M326.8 182.5h0M313.4 189.3h0M273.4 205.7h0M285 185.6h0M284.6 190.5h0M187.8 198.4h0M224.1 187.4h0M326.9 192.3h0M232.1 179.2h0M264.9 175.4h0M245.9 183.9h0M324.6 207.9h0M320.8 184.4h0M210.5 196.1h0M269.8 196h0M187.4 174.8h0M226.9 196.9h0M212 175.9h0M292.4 195.8h0M240 198.4h0M243.2 199.4h0M265.4 198.8h0M261.6 189.7h0M205.8 177.8h0M306.4 183h0M209.3 201.6h0M342.3 193h0M344.5 197.1h0M262.9 177.6h0M213.2 194.6h0M257.8 207.8h0M288.6 178.4h0M295 205.7h0M244.4 186.5h0M310.7 187.6h0M258.9 188.5h0M290.9 205.3h0M254.1 188.7h0M214 191.4h0M283.9 179.5h0M315.7 194.6h0M327.8 192.6h0M326 195.2h0M273.9 172.8h0M253.4 207.2h0M247 177.2h0M272.2 173.8h0M254.3 180h0M265.7 185.5h0M283.4 173.6h0M271.7 200.3h0M347.1 200.8h0M271.3 184.7h0M205.6 183.1h0M320.6 179h0M195.1 189.1h0M253.8 197.3h0M315 203.8h0M279.8 206.2h0M275.9 201h0M230.1 197.1h0M255.7 196.1h0M284.5 191.8h0M264.7 203.6h0M273.8 174.9h0M310.1 191.2h0M210.8 177.3h0M305.7 182.8h0M243.4 184.5h0M211.3 186.4h0M279.5 187.7h0M242.6 180.4h0M301.3 198.2h0M328.7 187.5h0M336.3 203.8h0M268.4 189.9h0M253.4 196.9h0M172.9 190.9h0M277.7 182.1h0M219.3 204.8h0M267.2 205h0M193.3 187.9h0M211 185.3h0M280.4 174.9h0M308.2 195.6h0M303.3 202.8h0M228 196.7h0M279.5 174.3h0M283.1 186.4h0M256.6 202.5h0M322.5 197.8h0M270.9 175.4h0M272.8 178.2h0M265.7 200.6h0M228.3 188h0M284.8 178.4h0M227.3 199.5h0M254.5 172.8h0M328.8 192.1h0M240.1 190.8h0M255.3 193.7h0M339.9 184h0M227.4 183.3h0M278.7 190.8h0"/><path d="M320.8 185.5h0M298.4 191.7h0M205.2 192.4h0M184.5 196.4h0M319.6 176.3h0M298.1 202.1h0M231.2 174.2h0M293.7 179.5h0M243.6 179.1h0M332.9 199.3h0M256.8 181.6h0M234.6 198.1h0M324.8 199.5h0M258.2 188.3h0M266.5 180.2h0M292.7 207.2h0M184.9 184.6h0M328.8 173h0M220.8 185.1h0M241.5 197.1h0M238.6 207.9h0M309.9 176.9h0M341.5 186.7h0M288.6 177h0M352.1 201.5h0M288.3 199.9h0M279.4 190.7h0M320.7 191.2h0M204.1 192h0M336.8 208.8h0M251.8 196.2h0M217.3 198.8h0M251.7 203.2h0M222.7 203.1h0M311.2 200.2h0M224.2 187.4h0M310.7 175.2h0M283.2 204.5h0M251.1 195.2h0M265.7 203.1h0M285.6 180.4h0M270.6 189.1h0M249.8 181.4h0M234.9 206.9h0M290 190.2h0M301.7 204.7h0M315.7 205.9h0M238.4 198.5h0M217.1 193h0M291.7 179.3h0M213.5 179.7h0M224.7 195.3h0M227.8 196.1h0M291.7 185.4h0M277.2 187.5h0M238.1 201.1h0M288.5 173.3h0M271.7 201.8h0M264.6 199.6h0M184.6 192.3h0M254.2 195.4h0M288.6 196h0M286.3 196.1h0M246.2 181.1h0M314.1 180.2h0M186.8 200.4h0M206.5 194.5h0M241.6 199.9h0M314.4 173.5h0M244.1 193.6h0M285.1 180.8h0M252.1 190.2h0M310.1 176.2h0M288.7 200.8h0M286 180.9h0M312.3 203.6h0M250.7 178.5h0M277 179.1h0M271.6 191h0M293.4 194.5h0M283.5 178.3h0M258.2 188.7h0M192.2 206.9h0M266.3 193.2h0M292.9 202.7h0M217.3 189.2h0M243.5 196.3h0M184.2 192.2h0M293.8 194.8h0M275.6 201.2h0M315.6 201.7h0M231.6 185.4h0M279.1 193h0M256.8 175.4h0M305.4 204.3h0M313.3 180.4h0M235.8 182.1h0M308.3 194h0M276.1 184.4h0M298.4 205.6h0M313.3 182.2h0M249.3 203.1h0M280.6 198.2h0M246.2 181.6h0M291.1 182.8h0M188.2 203.2h0M259.2 188h0M342.2 202.4h0M223.3 192h0M282.6 190.5h0M239 183.5h0M217.2 197h0M314.6 196.6h0M232.7 175.1h0M235.2 201.4h0M259.7 201.1h0M263.6 195.4h0M294.4 208.3h0M282.3 199.2h0M291.5 190.3h0M193 205.5h0M232.3 208.6h0M206.4 208.7h0M174.5 186.6h0M187.4 196.7h0M183.3 189.9h0M246.4 199.6h0M294.9 200.7h0M290.2 201.7h0M261.9 183.3h0M287 173.3h0M284.5 204.7h0M244.9 193.6h0M292 194.3h0M256.5 205.3h0M301 177.6h0M252.8 202h0M307.2 185.6h0M268.5 174.1h0M247.7 200.7h0M281.5 199.9h0M225.6 192.8h0M292.1 196.1h0M329.5 173.8h0"/><path d="M251.6 181.1h0M216.8 187h0M268.4 200.2h0M225 191.1h0M181 183.4h0M196.5 197.6h0M189.5 195.2h0M206.5 180.3h0M225.8 182.3h0M253.5 207.4h0M292.5 176.3h0M277.5 191.2h0M272.6 180.9h0M293.6 174.1h0M218.5 180.2h0M243.8 195.3h0M223.6 188.4h0M302.5 196.6h0M232.2 201h0M220.4 178.4h0M285.3 191.5h0M200.7 204.3h0M274.8 205.5h0M328.3 177.7h0M282.5 185.8h0M319 174.3h0M269.4 208h0M298.8 186h0M270.5 190.8h0M210.3 187.2h0M254.2 201.1h0M301.6 188.9h0M224.2 185.7h0M272.4 202.9h0M350 204h0M248.7 205.6h0M282.6 185.5h0M282.7 196.5h0M245.1 206.3h0M279.1 174.4h0M185.7 184.5h0M200.2 208.2h0M286.2 184.5h0M192.7 189.3h0M235 176.8h0M335.9 179h0M279.6 187.2h0M328.3 199.4h0M246.5 195h0M213.4 206.1h0M301.2 203.5h0M203.9 193.4h0M242.2 174.1h0M262.1 194.3h0M289.4 207.4h0M276.5 187h0M227.5 176.2h0M288.3 197.2h0M327.9 177.9h0M313.3 187.8h0M207.8 199.9h0M315.2 187.8h0M232.4 203h0M221.4 176.7h0M241.2 201.8h0M250 188.4h0M275.2 176.5h0M237.1 188.2h0M191 181.5h0M247.8 202.5h0M229.6 189.7h0M264.6 182.6h0M275.5 184.2h0M339.7 186.8h0M316 180.6h0M317.7 177.4h0M255.3 190.6h0M247.3 198.1h0M225.7 194.8h0M297.6 187.9h0M280 180h0M306.3 188.9h0M217.3 191.3h0M333.5 195h0M259.7 196.7h0M209.3 201.7h0M215.5 197.1h0M232.7 181.3h0M280.7 177.7h0M275 186.1h0M304.6 199.2h0M258.2 185.4h0M309.1 202.5h0M251.4 201.2h0M263.4 186.1h0M233.7 187h0M248.1 208.2h0M293.9 176.8h0M223.1 197.9h0M191.2 176.1h0M276.9 191.6h0M240.6 181.9h0M272.1 176.2h0M233.7 205.6h0M208.7 195.3h0M246 198.5h0M176.9 194.6h0M219.1 185h0M176.1 200.7h0M296.1 195.3h0M240.9 194.1h0M226.3 183.5h0M348.6 187.9h0M232.3 183h0M330 201.9h0M313.9 202h0M228.6 180.5h0M265.2 185.1h0M269.3 178.7h0M166.4 186.4h0M195.2 179.6h0M358.9 181.2h0M312.8 182h0M253.8 176.7h0M282.9 179.4h0M291.3 194.7h0M235.5 194.3h0M272.1 179h0M227.4 186.4h0M230.5 185.3h0M282.1 177.1h0M229.4 193.2h0M215.5 185.6h0M137.2 195.2h0M332.5 196.8h0M211.1 174h0M213 198.1h0M228 203.5h0M219.2 189.1h0M289.1 180.1h0M276.2 205.1h0M220.1 201.2h0M298.4 177.6h0M230 207.3h0"/><path d="M310.1 201.8h0M278 199h0M198.2 185.1h0M253 208.6h0M247.3 199.7h0M308.3 197.7h0M252.9 201.8h0M394.9 188.7h0M330.6 207.8h0M288.7 176.5h0M236.9 185h0M340.5 205.5h0M257.8 194.6h0M261.9 202.6h0M275.8 177.5h0M250.4 194.9h0M204.3 205.4h0M325 198.6h0M284.5 199.2h0M263 202.9h0M224.7 208.4h0M252.8 207.8h0M282.4 186.7h0M316.9 196.5h0M162.9 200h0M225 180h0M298.3 197.2h0M183.1 206h0M236.3 174.2h0M330.5 190.8h0M267.9 191.4h0M242.8 175.6h0M196.5 200.4h0M288.9 177.3h0M211.8 185.8h0M269.2 186.6h0M355.9 196.2h0M197 187.4h0M260.4 197.5h0M256.3 203.7h0M171.1 188.9h0M244.3 186.4h0M308.4 202.9h0M219.8 204.9h0M277.5 175.8h0M182.4 176.8h0M201.9 180.4h0M297.6 193.2h0M234.6 189.7h0M212.8 175.5h0M273.2 178.1h0M215.4 202.6h0M209.8 194.5h0M267.1 201.2h0M325.9 177.6h0M238 197.4h0M272.5 187.7h0M294 185.9h0M316.5 182.1h0M265.4 196.4h0M323.9 207.7h0M287.9 202.2h0M293.7 202.4h0M188.2 198.4h0M238.4 207h0M270.9 200.7h0M264.1 178.8h0M212.2 178.4h0M228.7 200.5h0M195.6 195.6h0M310.4 178.4h0M311.4 202.1h0M331.2 203.3h0M249.5 192.6h0M303.4 200.3h0M254.9 187.1h0M213.2 173.6h0M345.5 181.4h0M174 190.6h0M297.9 194.9h0M234.1 179.4h0M275.4 198.3h0M311.1 180.9h0M239.9 202.8h0M247.1 187.1h0M285.7 205.6h0M218.3 185.2h0M308.9 201h0M269.4 177.8h0M294.5 206.9h0M203.3 191.2h0M263.8 190.4h0M333.2 176.6h0M195.6 193.1h0M301.3 197.3h0M245.7 197.8h0M347.1 180.3h0M287.2 207.4h0M229.9 191.5h0M198.1 173.7h0M248.4 186.8h0M322 200h0M297.3 182.7h0M238.1 208.1h0M252 203.1h0M386.8 191.8h0M285.6 191.4h0M284.1 203.1h0M300 173.9h0M192.2 201.5h0M220.9 207.1h0M239.1 182.1h0M205.8 177.3h0M255 198.3h0M151.5 184.5h0M343.7 203h0M303.6 200h0M318 179h0M223 173.5h0M237.6 203.6h0M249.3 195.9h0M255.2 178.1h0M262.3 200.9h0M303.9 188.1h0M200.3 191.1h0M256.6 185.9h0M253.9 198.4h0M247.7 205.7h0M243.9 206.4h0M265 203.7h0M311.8 207.6h0M269.4 182.6h0M327.5 189.2h0M316.5 206.1h0M284.2 206.3h0M179.7 190.9h0M259.8 189.1h0M280.3 181h0M220.8 199.9h0M219.9 185.8h0M349 189.7h0M325.1 185.1h0M200 178.4h0M343.7 179.4h0"/><path d="M336.1 178.2h0M343.6 200.9h0M230.1 177.2h0M188.9 207.9h0M222.7 190.7h0M285.1 193h0M299.1 205.8h0M264.9 195.3h0M175 197.1h0M343.8 183.3h0M217.1 201.9h0M277.4 193.9h0M248.8 178.2h0M268 176.6h0M295 185.3h0M328.3 208.7h0M236.6 189.7h0M306.7 206.9h0M345.8 201.6h0M235.8 199.7h0M256.3 191.1h0M221.8 191.4h0M243.3 179.7h0M259 199.7h0M171.7 188.6h0M207 199.6h0M254.2 193.6h0M385.6 192.8h0M223.1 194.1h0M219.4 206.8h0M242.1 206.8h0M230.2 185.6h0M284.8 181.9h0M308 208.5h0M204.7 189.3h0M281.5 199.3h0M317 206.3h0M192.2 197.4h0M296.4 185.2h0M291.4 196.3h0M219.7 191.3h0M234.5 191.9h0M232.6 205.9h0M235.8 181h0M245 188.5h0M163.5 193.4h0M152 194.4h0M282.4 194.4h0M266.1 193.1h0M295.4 197.1h0M174.8 191.6h0M268.4 174.6h0M241.3 192.9h0M240.4 202.3h0M284.7 179.7h0M180.1 195h0M221.3 174.1h0M230.2 188.5h0M180.1 194.2h0M277.3 194.6h0M251.6 200.8h0M262.9 184.7h0M192.6 178.7h0M328.6 179.7h0M206.9 194.1h0M235.2 200.1h0M241.2 175.2h0M240.7 191.8h0M275.1 190h0M333.9 176.8h0M289.5 190.5h0M332.7 190.5h0M299.4 205.5h0M313.4 183.7h0M321.6 180.1h0M207.4 176.4h0M220 182.3h0M231.2 196.2h0M311.7 181.4h0M253.4 177h0M245.2 201.7h0M252 178.2h0M256.2 206.1h0M327.7 202.7h0M216.6 207h0M321.9 175.4h0M279 183.4h0M289.4 199.7h0M293.2 193.9h0M210.9 184.2h0M245.2 201.2h0M287.2 179.4h0M214.8 186.1h0M278.1 182.3h0M300.6 199.8h0M187.1 179.4h0M308 202.9h0M249.2 199.6h0M356.9 192.8h0M247.1 176.4h0M305.1 202.3h0M299.7 173.6h0M321.3 197h0M258.8 200.5h0M226.1 199.1h0M336.2 183.6h0M198.4 186.6h0M284.7 206.9h0M149.3 188.6h0M244.3 205.2h0M272.1 198.2h0M254.5 191.6h0M214.3 182.1h0M242.6 195.1h0M290.8 208h0M292.9 178.4h0M320.9 203h0M214.1 190.6h0M332.2 177.8h0M224.3 173.7h0M223.4 191h0M281.8 182.7h0M242.4 179.2h0M281.8 182h0M281.2 174.8h0M255.7 185.2h0M254.3 199.7h0M301.9 174.6h0M211.5 206.3h0M295.1 186.6h0M284.9 192.8h0M281.2 174.3h0M206.9 177h0M311.7 182.5h0M204 173.7h0M318 185.1h0M375.9 186.5h0M290.6 177.4h0M338.9 205.4h0M287.4 183.8h0M232 199.5h0M214 182.6h0M274.7 203.6h0M260.2 208.5h0"/><path d="M274.2 192.6h0M193.8 194.8h0M280 186.1h0M258.4 204.4h0M290.1 186.8h0M257.3 184.5h0M272 176h0M225 175.7h0M233.5 204.8h0M277.2 200.7h0M256.6 177.8h0M240.1 203.9h0M292.9 201.5h0M241.8 186.5h0M278.6 187.3h0M224.5 187.7h0M221.1 175.9h0M305.1 181.6h0M262 179.6h0M322.4 178.9h0M288.7 189.5h0M321.3 192.6h0M218.9 206.9h0M288.3 205.9h0M265.7 180.4h0M306.5 174.8h0M233.5 196.1h0M270.8 178.8h0M199.2 175.8h0M244.5 205.9h0M234.1 201.9h0M192.7 192.7h0M304.2 190h0M308.2 205.2h0M283 174.5h0M244.5 180.7h0M205.9 180h0M259.5 181.6h0M194.4 193.1h0M342.1 186.7h0M275.7 207.2h0M213 178.2h0M284.9 182.3h0M217.9 201.1h0M236.8 185.7h0M144 190h0M319.3 193.7h0M225.6 191.6h0M323.7 179.9h0M253.8 193.3h0M321 196.9h0M241.3 193.9h0M277.2 206.1h0M217.2 195.5h0M285.5 197.3h0M275.7 176.7h0M262.6 191.5h0M259.4 176.9h0M267.6 182.1h0M320 176h0M288.6 193.4h0M209.5 180.5h0M241 185h0M328.4 189.1h0M235 182h0M221.5 179.3h0M240.9 187.7h0M245.5 189.4h0M170.2 201.3h0M234.7 189.9h0M222.2 202.3h0M247.3 191.7h0M317.3 201.7h0M303.2 175.9h0M237.1 184.4h0M238 187.1h0M300 198.3h0M306.9 191.8h0M210.6 199.2h0M221.3 205.1h0M229.4 208.6h0M351.9 202.8h0M227.7 205h0M215.9 202h0M229.2 189.9h0M248.8 207.5h0M300.3 181.1h0M264.6 195.5h0M211.5 197h0M297.8 187.5h0M322.6 201.2h0M355.4 180.3h0M315.3 186.1h0M263.8 186.5h0M281.9 189.6h0M331.6 194.7h0M293.4 197.4h0M185.7 186.1h0M343.8 197.2h0M324.1 204.2h0M284.6 183.4h0M263.4 177.5h0M312.3 207.3h0M266.8 195.3h0M273.5 183.2h0M261 175.7h0M302.2 192.8h0M186.2 186h0M272.8 176.4h0M247.1 188.5h0M353.4 181.2h0M203.5 177h0M200 188.6h0M307.4 206.3h0M163.1 191.2h0M250.9 190.5h0M266.4 189.4h0M238 193.9h0M270.1 174.7h0M316.7 200.5h0M248.5 201h0M208.8 192h0M295.1 205.6h0M323 193.6h0M313.7 187.6h0M264.4 184.7h0M247.2 193.4h0M216.1 182.6h0M284.5 174.3h0M204.5 191.2h0M300.8 182.2h0M273.6 174.3h0M370.2 185h0M345.1 189h0M257.3 201.6h0M281.5 185.5h0M254.5 175h0M216.4 190.5h0M250 208.3h0M248.9 204.4h0M216.5 181.4h0M308 195.7h0M275.4 182.3h0M279.8 201.3h0"/><path d="M203.5 206.1h0M269.9 205.2h0M235.7 187.1h0M231.3 191.6h0M307.9 201.7h0M289 201.5h0M218 176.1h0M250.3 178.2h0M242.4 184.7h0M276.5 189.4h0M198.7 174.4h0M253.7 175.7h0M227.4 195.4h0M279.2 208.1h0M178.4 179.9h0M231.1 200.7h0M335 185.6h0M258.6 184.2h0M284.1 185.2h0M216.8 201.2h0M299.4 175.8h0M271.7 194.8h0M296.4 195.9h0M222.3 184.5h0M303.9 180.2h0M235.8 173.6h0M326.6 198.1h0M280.1 184.2h0M251.2 176.5h0M224.6 180.3h0M302.1 204.9h0M279.5 207.2h0M185.7 175.6h0M254.6 179.2h0M310.8 191.5h0M261.1 182.8h0M265.7 208.1h0M207.7 205.1h0M330.8 177.6h0M218.5 181.4h0M259.4 172.9h0M266.2 183h0M290 190h0M222 175.9h0M234.4 182.1h0M275.6 191.5h0M227.7 201.1h0M238.5 201.4h0M342.8 193.5h0M315.4 190.8h0M278.8 206.6h0M259.3 186.1h0M235 193.4h0M301.9 189.2h0M234 193.5h0M239.1 200h0M319.1 197.4h0M242.8 184h0M231.8 178.6h0M267.2 185.7h0M164.8 182h0M315.8 174h0M319.3 175h0M301.3 176.1h0M205.5 181.6h0M257.9 207.6h0M197.8 200.7h0M223.3 178.1h0M311 176.1h0M272.2 204h0M240 181.8h0M186.5 178h0M157.3 197.4h0M321.5 200.9h0M249.6 174.4h0M287.8 201.6h0M258.1 194.9h0M237.4 196.1h0M211.1 199.4h0M259.3 195.9h0M261.3 207.9h0M224.2 198.4h0M297.5 203h0M288.6 174.9h0M326.4 177.8h0M217.2 173.6h0M317.3 194.5h0M256.6 204.8h0M170.9 198h0M280.9 198h0M296.7 203.8h0M281 198.5h0M208.1 198.4h0M213.4 203.9h0M304.2 192.2h0M351.8 183.4h0M233.1 190.1h0M284.4 184.4h0M256.5 183.4h0M327.1 195h0M205.8 181.3h0M347.8 195.8h0M247.2 192.2h0M269.5 188.6h0M306.7 187.1h0M290.9 176.9h0M281.2 191h0M284 206h0M250.1 185.6h0M198.9 201.2h0M302.4 201.3h0M231 177.9h0M242.4 199.4h0M250.7 184.1h0M259.5 184.2h0M258.5 196.4h0M314.4 182.7h0M327.8 185.8h0M172.4 188h0M274.1 174.8h0M280.5 182.1h0M275 205.1h0M284.8 183.1h0M242.9 199.5h0M286.8 174.7h0M245.8 183h0M317.9 195.9h0M250.2 193.4h0M256.7 195.9h0M265.5 202.8h0M334.7 174.6h0M235.3 177.2h0M312.7 179.6h0M225.7 204.5h0M263.6 199.4h0M200.8 182.7h0M255 203.9h0M317.2 197.1h0M246.8 186.6h0M200.4 193.7h0M323.4 174.6h0M226.9 187.9h0M355 197.3h0M239.8 186.7h0"/><path d="M295 203.3h0M254.2 193.1h0M214.8 200.9h0M314.6 202.3h0M314.1 206.9h0M254.4 177.5h0M308.2 188.8h0M252.2 173.8h0M275.7 208.3h0M191.8 179.2h0M260.7 181.3h0M229.1 203.7h0M297.2 193.2h0M238.3 199h0M172.8 178.7h0M322.2 175.7h0M251.2 193.9h0M298 199.7h0M296.8 195.7h0M353 195.6h0M292.3 204.3h0M227.3 205.1h0M310.7 207.1h0M201.1 176.3h0M322.2 183.1h0M187.3 177.1h0M312.1 208.4h0M246.7 173.8h0M279.7 178.7h0M370.8 189.2h0M236.6 191.9h0M337.2 181.3h0M244.5 204.9h0M237.4 196.3h0M195.2 183.8h0M280.6 194.6h0M298.5 197.1h0M239.4 175.6h0M265.4 175.8h0M229.9 191.6h0M192.9 179.5h0M222.3 181.1h0M253 203.4h0M270.1 207h0M286.4 181h0M211.6 185.8h0M202.6 193h0M201.1 196.2h0M217.5 203.5h0M232.7 197.7h0M259.4 197.5h0M289.3 195.9h0M182.7 201h0M208.2 175.8h0M216.4 179.4h0M315.7 204.4h0M242.6 182.1h0M251.8 198.5h0M257.7 178.6h0M240.3 205h0M289.4 191.3h0M238.5 179.2h0M314.2 188.9h0M235.5 204.4h0M301.1 197.6h0M254.1 206.6h0M284 181.6h0M238.3 197.9h0M352.5 199.7h0M189.3 201.8h0M248.4 198.5h0M309 206.9h0M152.3 184h0M194.6 191.3h0M284.5 205.6h0M255.7 202.8h0M239.9 205.9h0M281.3 204.9h0M308.3 205.5h0M333.8 181.2h0M282.8 192.7h0M326.8 180.1h0M233.5 194.4h0M336.7 204.4h0M260.2 194.3h0M345.3 202.1h0M325.5 177.6h0M233.2 194.5h0M281.4 194.8h0M287.7 206.9h0M279.8 174.1h0M313.4 205.5h0M241 173.1h0M302.8 198.2h0M254.7 177.1h0M330 177.1h0M297.4 186.2h0M190 207h0M303.4 182.4h0M292.9 187.1h0M234.3 200.8h0M285.9 176.2h0M267.4 192.3h0M293.6 205.5h0M231.8 190.8h0M252.2 174.7h0M224 173.8h0M162.7 181.7h0M283.7 199.3h0M225.3 187.1h0M217.7 204.7h0M254.4 179.2h0M325.1 187.7h0M253.5 187.8h0M257.1 177.8h0M232.5 201h0M241.1 194.7h0M311.5 207.1h0M246 187.1h0M282.4 183.4h0M269.6 194h0M279.4 173.9h0M202 198.4h0M262.9 204.3h0M206 207.6h0M318 174.1h0M282.2 189.9h0M255.9 176.4h0M239.6 203.8h0M269.7 195.5h0M254.4 189.9h0M206.3 182.1h0M262 197.1h0M225.2 189.2h0M150.8 193.1h0M292.4 201.3h0M306.1 197.7h0M233.2 184h0M224.4 186.5h0M206.7 206.7h0M267.1 193.5h0M305.6 182.1h0M239.2 202.8h0M289.5 193.2h0"/><path d="M284.5 197.7h0M256 203.3h0M269 193.9h0M241.7 199.3h0M289.3 182.6h0M211.2 193.7h0M176.4 199.8h0M324.7 187.1h0M251.9 188.3h0M280.1 185.1h0M266.4 201h0M270.2 199.3h0M295.8 186.3h0M239.9 176.9h0M255.6 189h0M234.6 181.4h0M213 192.3h0M218.7 195.3h0M285.9 190.9h0M313.9 183.5h0M253 197.5h0M197.3 176h0M224.3 189.1h0M289.6 195.5h0M249.7 177.1h0M198 177.9h0M291.5 201h0M308 196.6h0M257.4 195.1h0M198.7 199.3h0M245.4 177.5h0M320.7 176h0M239.5 185.5h0M359.9 189.5h0M278.1 191.7h0M263 183.4h0M195.4 180h0M222.5 182.4h0M250.4 175.1h0M280.4 202.5h0M224 204.1h0M214.3 207.8h0M210.6 192.2h0M259.8 207.4h0M189.5 195.8h0M273.3 208.1h0M283.3 173.1h0M324.7 197.4h0M273.9 203.4h0M231.4 184.9h0M211.2 176.7h0M244.5 206.6h0M277.5 180.8h0M239.5 177h0M190.8 190.5h0M290 176.8h0M269.1 197.9h0M250.1 192.6h0M188.1 201h0M269.4 178.5h0M231.1 206.9h0M255.2 189h0M317.2 189.1h0M313.2 199.7h0M178.1 198.7h0M235.9 182h0M225.8 204.2h0M242.2 188.8h0M243.1 177.7h0M270.8 175h0M331.6 185.6h0M259.3 181.9h0M281.4 208.3h0M330.3 201.4h0M276.5 205.1h0M272.7 177.9h0M318.8 189.5h0M257.4 198.4h0M231.8 190.4h0M261.2 179.3h0M292.4 201h0M361.5 185.4h0M353.9 182.3h0M214.9 191.6h0M242 176.2h0M210.1 174.3h0M241.6 192.5h0M297.6 201.6h0M258.9 194.6h0M253.2 205.7h0M208 189.5h0M207 177.9h0M236.8 192.4h0M253.2 182.8h0M295.5 192.3h0M223.6 184.2h0M290.3 175.9h0M303.4 181.1h0M290.1 187.6h0M279.2 207.9h0M303.6 200h0M341.6 189.5h0M338.4 172.8h0M307.1 195.4h0M211.9 206.9h0M312.7 187.2h0M289.6 197.6h0M254.7 186.2h0M275.9 195.7h0M214 189.5h0M204.2 199.3h0M277.2 202.6h0M284.3 200h0M265.6 199.3h0M257.6 202h0M302.5 195.7h0M316 201.1h0M328 184.7h0M294.5 207.5h0M196 206h0M218.4 179.8h0M298.1 191.9h0M301.5 204.3h0M231.2 198.6h0M255.6 185.3h0M288.4 197.2h0M237.2 178.6h0M290.1 190h0M229.9 174.6h0M225.4 205.7h0M296.5 184.5h0M282.1 191.8h0M314.4 200.7h0M310.4 194.1h0M346.5 178.7h0M183.2 183.2h0M195 175.1h0M348.6 202.2h0M283.2 179.3h0M324.5 192.9h0M282.3 184.5h0M258.2 206.8h0M261.5 199.7h0M115.5 191.2h0"/><path d="M240.2 173.3h0M235.3 205.4h0M256.2 177.7h0M253.7 182.6h0M225.6 203.3h0M257.3 176.7h0M332.8 176.8h0M271.7 208.8h0M203.7 201.8h0M230.4 183.1h0M302 204.6h0M246.9 182.1h0M307.9 197h0M320.9 207.5h0M195.6 190.5h0M242.5 190.9h0M285.2 207.2h0M286.6 195.3h0M284.4 201.8h0M252.2 196.7h0M236.5 193.1h0M256.6 203.5h0M204.6 194.6h0M324.7 202.9h0M267.5 204h0M284.5 200.7h0M217.4 181.3h0M272.5 186.7h0M316 183.4h0M316.9 189.4h0M266.3 179h0M279.9 200.1h0M273 195.9h0M273.3 178h0M235.6 194.4h0M238.8 203.8h0M271.4 173.3h0M242 198.7h0M289.2 193.2h0M253.9 180.1h0M275.8 189.3h0M290.5 177.4h0M275.5 181h0M307.6 197.7h0M224.7 208h0M285.5 194.5h0M291 190.2h0M304.8 205.3h0M285.2 176.8h0M315.7 195.3h0M263.7 191.5h0M284.9 175.3h0M291.9 192.7h0M296.3 196h0M234.7 175.1h0M291 207.7h0M261.1 175.4h0M337.2 206.2h0M246.8 189.4h0M267.2 191.6h0M259.4 208.3h0M319.4 184.7h0M229.3 191.6h0M308.9 196.7h0M223.6 202.2h0M332.7 207.2h0M256.4 175.2h0M316.1 197.1h0M301.5 184.4h0M283.9 208.8h0M261.4 177.3h0M352.4 193.8h0M245.3 193.5h0M230.6 200.8h0M302.3 186.3h0M295.3 181.8h0M234.6 176.5h0M269.5 194.9h0M223.3 177.5h0M281 207.3h0M289.9 177.1h0M311 203.1h0M237.3 173.4h0M300.5 204.1h0M228.8 203.9h0M193.6 197.2h0M246.7 187.4h0M264.5 207.2h0M308.5 182.7h0M195.5 186.3h0M266.6 198.6h0M283.9 182.7h0M299.4 172.9h0M162.8 181.3h0M271.8 191.9h0M307 175.1h0M271.8 201.4h0M207.9 202.3h0M237.3 181.2h0M332.5 188.1h0M306.9 198.1h0M306.8 190.2h0M267.1 178.3h0M285.8 198.9h0M210.1 179.2h0M243.2 206.9h0M248 201.2h0M314.4 181.9h0M265.5 198.6h0M250.3 180h0M237.4 198.9h0M271.7 190.9h0M216.9 185.9h0M272.8 181.9h0M339.1 198.2h0M263.7 201.7h0M356.3 189.2h0M270.4 179.5h0M228.2 203.5h0M242 184h0M297.2 182.9h0M262.5 208.5h0M260.9 195.7h0M220.4 202.6h0M225.1 181.7h0M254.8 183.9h0M261.1 197.9h0M296.6 190.3h0M341.8 199.4h0M282.9 173.3h0M238.6 178.4h0M205.3 180.9h0M188 201.1h0M267.7 191h0M332.3 180.1h0M284.2 178.5h0M207.5 202.8h0M248.2 205.5h0M338.1 206.2h0M237.9 199.4h0M282.8 187.2h0M278.1 180.3h0M334.5 195.4h0M122.3 190h0"/><path d="M317.1 208.1h0M238.3 178.8h0M252.7 186.5h0M302.3 199.7h0M328.1 202.9h0M181 199.6h0M284.3 208.7h0M190.6 200.9h0M273.7 205.6h0M253.9 198.1h0M203.2 182.7h0M207.3 177.1h0M265.2 207.1h0M248.9 174.5h0M283.5 176.7h0M320.1 199.3h0M355 191.1h0M320 173.1h0M318.7 205.6h0M297.9 197.8h0M271.7 204.9h0M197.6 185.4h0M247.7 184.6h0M297.5 198.9h0M268.2 206h0M272.2 201h0M333.4 205.9h0M280.4 206.2h0M230.6 187.7h0M241 206.6h0M239.9 178.1h0M262.3 195h0M278.7 193h0M240 180.2h0M250.8 175.5h0M257 191.4h0M232.6 197.1h0M261.3 187.9h0M239 193.9h0M244.1 181.7h0M255.9 186h0M258.5 195.9h0M228.5 186.2h0M264.6 180.1h0M194.8 183.8h0M152.2 194.8h0M325.9 179.4h0M196.9 177h0M215.2 184.5h0M249 204.4h0M328.5 205.6h0M272.8 185.4h0M204 184.5h0M240.8 187h0M207.4 197h0M321.9 201.8h0M192.7 176h0M339.4 181h0M257.6 192.8h0M243.4 195.7h0M287.8 177.2h0M224.6 188.8h0M277.5 185.4h0M243.6 197.9h0M302 177.7h0M339.8 192.4h0M332.8 185.2h0M258.3 179.7h0M235.9 206.4h0M196 191.6h0M283.1 202h0M300.2 200.8h0M318 202.3h0M282.3 186.5h0M307.6 205.9h0M282.9 198h0M255.2 197.9h0M269.6 197.4h0M338.4 207.5h0M331.6 182.1h0M246.4 184.7h0M278.5 188.1h0M313.6 202h0M237.7 205.5h0M318.3 190.9h0M301.5 208.4h0M223 191.2h0M190 203.5h0M352.7 186.1h0M330.3 197.3h0M382.9 187.9h0M219.5 208.1h0M269.8 183.6h0M319.7 193.2h0M296.9 205h0M247.5 194.5h0M233.2 181h0M161.9 188.8h0M226.3 203.8h0M287.1 186.1h0M192.8 175.1h0M281.2 173.8h0M306.1 201.8h0M236.2 184.7h0M281.1 201.2h0M226.6 176.8h0M266.6 189.4h0M243.2 193.9h0M301.9 202.1h0M296 192.1h0M216.5 197.2h0M250.5 201.1h0M199.3 194.5h0M248 181.4h0M248.1 206.5h0M316.4 199.6h0M284.4 193h0M289.5 192.1h0M298.5 202.6h0M321.6 174.6h0M305.2 195.9h0M240.6 189.2h0M234.1 176.5h0M198.4 208.6h0M283.9 205.3h0M207.6 205.9h0M327.2 196.8h0M275.6 194.4h0M267 193.8h0M235 195.1h0M265.3 195.8h0M303.7 201.2h0M272.5 205.6h0M235 207.9h0M201.4 206.3h0M272.4 183h0M294.6 183.1h0M280.1 180.6h0M326.7 176.6h0M314.6 205h0M300.4 176.9h0M278.9 187.2h0M208.8 189h0M114.4 189.5h0"/><path d="M265.9 189.1h0M230.4 178h0M299.2 205.5h0M273.5 183.4h0M241.9 203h0M198.3 190.9h0M274.2 198.4h0M292.7 203.5h0M293.8 191.4h0M251.3 200.6h0M252.9 207.4h0M290.4 175.4h0M228 186.3h0M203 174.1h0M257.2 177.6h0M244.5 179.2h0M301.2 201.3h0M217.5 186.8h0M216.8 180.7h0M274 190.8h0M238.7 196.2h0M264.5 187.4h0M279.8 207.5h0M268.4 190.4h0M197.6 201.5h0M297.5 193.4h0M338.1 199.4h0M232.6 184.2h0M255.2 207.2h0M341.8 180h0M291.9 192h0M355.8 185.4h0M254.4 190.4h0M211.7 180.2h0M192.9 198.5h0M254.7 206.2h0M203.6 198.8h0M244.5 204.6h0M290.1 178.4h0M269.2 190.8h0M299.3 206.8h0M288.3 202.8h0M250 195.6h0M269.2 200.1h0M304.7 187.2h0M318 173.8h0M268.7 181.3h0M270.5 174.2h0M268.3 198.6h0M206.4 193.4h0M277.1 182.5h0M325.9 192h0M256.6 208.3h0M343.1 197.2h0M286.5 184.6h0M304.7 194.6h0M159.5 190.7h0M171.9 199.3h0M262.3 184.5h0M229.7 177.1h0M219.4 197h0M328.2 174.7h0M198.1 181.4h0M206.6 185.8h0M300.7 180h0M178.7 191.2h0M247 181.2h0M309.7 181.2h0M339.8 199.1h0M356.3 183.2h0M330.7 185.2h0M249.6 191.5h0M250 187.1h0M197.4 183.4h0M242.8 181h0M315.7 179h0M275.5 176.6h0M280.9 191.4h0M219.9 173.3h0M316.8 207.2h0M245.9 206.6h0M281.9 203.3h0M264.7 196.5h0M186 175.7h0M290 199.3h0M299.6 199.7h0M269.3 200.1h0M279 193.5h0M201.7 195.3h0M309.3 175h0M192.7 186.5h0M318.8 197.5h0M250.6 187.2h0M255 177.1h0M293.9 185.5h0M239.3 192.8h0M227.2 204.2h0M215 202.4h0M298 186h0M276 192h0M269.3 174.3h0M287.2 202.4h0M270.5 181.5h0M273.6 177.7h0M190.2 176.9h0M212.2 191.3h0M274 196.3h0M353.7 181.9h0M270.6 185.1h0M284.7 200.1h0M213.6 193.2h0M286.9 202.8h0M296.7 199.7h0M294.9 185.3h0M204.4 174.8h0M285.2 188.5h0M348 199.7h0M335.1 180.8h0M227.7 199.3h0M281.5 177.4h0M287.6 184.9h0M217.7 197.1h0M266.8 187.1h0M222.9 187.2h0M291.7 188.4h0M265.7 194h0M277.4 184.7h0M277.8 206.1h0M377 191.4h0M277.4 191.2h0M318.1 179.3h0M219.9 191.8h0M250.6 186.6h0M158.1 197.2h0M270.9 186.8h0M294.5 181.8h0M209 203.4h0M343.3 186.7h0M218.4 190h0M195.8 183.5h0M313 197.7h0M254 183.3h0M324.9 198.2h0M123.8 188.1h0"/><path d="M184.9 183.3h0M201.9 208.4h0M289.5 173.9h0M179.5 187.9h0M305.7 195.1h0M258.5 195.6h0M254.8 173.3h0M266.2 205.7h0M288.5 187.8h0M354.8 199.3h0M299.8 190h0M289.3 184.3h0M282.2 174.5h0M281 199.3h0M197.3 177.1h0M304.5 193.5h0M283.6 199.8h0M302.5 206.8h0M221 196.3h0M261.7 197.8h0M307.2 183h0M291.2 204.2h0M250.5 182.7h0M281.9 182.5h0M269.3 204.6h0M306.6 183.8h0M236.9 193.8h0M298.6 203.4h0M325.8 182.1h0M298.7 207.9h0M196.5 207h0M284 186.9h0M315.1 181.4h0M304.4 197h0M303.1 198.8h0M239.1 194.5h0M241.1 187.7h0M247.5 202.6h0M257.3 206.7h0M286.3 202h0M264.2 176.7h0M263 206.7h0M273 198.9h0M291.2 201.8h0M269.4 197.9h0M232.5 182.8h0M243.2 200.5h0M226.8 191.9h0M223.4 194.1h0M225.5 191.7h0M260 176h0M334.5 202.6h0M191.1 207.3h0M220.8 191.5h0M289.2 207.4h0M245.3 197.9h0M312.1 173.8h0M194.5 207.2h0M322.2 196.5h0M248.7 180h0M268.1 173.6h0M229.8 173.7h0M256.3 194h0M211.5 179.6h0M356.3 185.1h0M265.5 200.7h0M244.6 207.3h0M182.4 176.2h0M228.4 199.1h0M214.6 188.3h0M252 195.8h0M313.3 184.3h0M296.4 206.6h0M276.7 180.9h0M209.2 181.9h0M196.3 174.6h0M215.7 206.1h0M189.4 208.5h0M310.5 178.4h0M294.1 203.8h0M300.4 183.5h0M334.1 187.1h0M333.3 188.7h0M259.9 187.6h0M286.1 203.4h0M203.8 176.8h0M341.5 180.9h0M190.3 194.5h0M251.2 177.7h0M357.6 193.4h0M308.2 173.5h0M276.8 205.8h0M301.8 182.9h0M198.4 181h0M187.3 178.3h0M288.7 203.5h0M258 204.8h0M271.6 176.4h0M365 195.6h0M313 194.1h0M289.7 206.3h0M300.6 199.4h0M310.5 192.1h0M261.3 186h0M270.1 203h0M282.6 195h0M237.5 181.5h0M257.8 197.1h0M326.4 186.2h0M281 184h0M296.4 187h0M297.2 183.7h0M281.8 187.9h0M206.4 204.3h0M294.9 204.8h0M273.1 177h0M292.5 205.8h0M286.3 195.4h0M259.8 179.3h0M298.3 207.2h0M287.3 180.6h0M246.1 182.1h0M208.3 177.3h0M215.6 178.4h0M293.1 191.2h0M325.6 183.4h0M289.6 193.8h0M240 187.5h0M244.3 182.7h0M276.3 187.6h0M343.9 181.2h0M299.6 188.2h0M244.1 195.8h0M226.3 200.6h0M242.4 199.9h0M200.7 185.3h0M280.4 178.2h0M308.8 202.9h0M264.2 200.7h0M227.3 208.6h0M287.9 204.6h0M265.4 201.9h0M249.4 186h0M126.7 191.4h0"/><path d="M192.7 175.2h0M270 183.5h0M275.5 200.2h0M225.4 175.7h0M192.7 196.2h0M307.6 178.9h0M306.6 199.6h0M305.1 180.8h0M265.2 190.7h0M283.9 196.8h0M247.1 197.5h0M212.2 179.7h0M329.2 182.1h0M271.7 205.9h0M321.7 203.3h0M312.8 177.7h0M253.5 189.6h0M305.2 173.4h0M265.4 201.6h0M307.5 201.3h0M278.7 204h0M242.6 177.2h0M300.7 185.1h0M294.1 199.1h0M267.5 201.4h0M334 195.6h0M280.7 190.4h0M228 187h0M351.4 183.6h0M234.6 195.2h0M247.4 192.7h0M342.4 184.6h0M252.7 202.5h0M310.8 193.4h0M242.6 208.4h0M277.9 193.5h0M245.2 176h0M263.9 197.3h0M263.9 177.9h0M327.4 187.8h0M319.3 173.4h0M264.5 198.2h0M348 183.9h0M313.6 196.4h0M262.5 183.9h0M271.6 183h0M245.3 207.5h0M299.1 188.9h0M251 186.7h0M299.8 194.8h0M277.4 174.9h0M274.8 199.2h0M251 195.2h0M272 187.2h0M279.3 187.2h0M274.8 174.5h0M249.3 200.1h0M226.6 186h0M187 189.1h0M292.6 184.4h0M312.1 176.7h0M193 197.1h0M275 174.8h0M257.7 173.5h0M251.1 188.2h0M229.1 205.7h0M333.4 178.8h0M223.7 205.5h0M190.5 186h0M236 206.7h0M341.6 207.1h0M272.9 196h0M233.1 195.2h0M290.1 189.7h0M295.6 192.8h0M239.9 204h0M257.2 190.3h0M184.7 202.2h0M243.6 198.3h0M277.4 192.9h0M230.9 188.4h0M261.5 208.6h0M240.7 191.3h0M286.2 191h0M306.2 201.2h0M255.6 193.8h0M298 184.1h0M201.3 198.7h0M254.9 183.7h0M261.6 196.1h0M260.8 194.6h0M208.5 186.7h0M335.8 187.7h0M238.3 201.8h0M312.2 187.4h0M197.8 173.8h0M236.3 180.4h0M187.5 182.2h0M249.2 208.3h0M229.9 203.1h0M243 207.8h0M297.4 201.3h0M191.4 197.4h0M231.1 203.7h0M303.3 176.8h0M273.5 206.7h0M254.8 199.1h0M218.8 197.3h0M275.5 179.6h0M262.6 206.6h0M242.5 198.6h0M236.6 179.1h0M121.7 189.7h0M312.4 187.3h0M206.5 181.9h0M306.8 181.5h0M289 175.7h0M195.1 183.3h0M239.2 178.4h0M264.8 187.6h0M232.9 184.4h0M260.2 189.9h0M202.4 192h0M261.3 178.9h0M251.7 204h0M190.8 179.3h0M289.9 198.4h0M275.8 205.5h0M226.3 199.3h0M295.4 183.5h0M294.9 204.8h0M247.3 188.3h0M323.5 207.2h0M285.4 174h0M224.8 207.9h0M325.9 186.5h0M307.3 173.6h0M263.1 190.9h0M231.4 195.4h0M237.9 183.6h0M312.5 177.7h0M281.6 196.7h0M247.7 200.3h0M119.1 188.6h0"/><path d="M229.1 178h0M259.1 188.9h0M277.7 183.9h0M279.2 177.7h0M259.5 174.5h0M222.5 187.8h0M137.8 188.3h0M179.8 196.1h0M243 177.4h0M294.2 199.7h0M311 196.8h0M328.3 181.8h0M242.7 200.9h0M183.4 195.9h0M250.8 202.2h0M227.5 174.2h0M256.1 187.9h0M175.1 185h0M274.8 208.4h0M311 204.9h0M240.1 199h0M217.9 178h0M327.7 200.4h0M276.6 203.6h0M314.7 203.1h0M321.2 175h0M255.9 174.3h0M211.3 196.3h0M328.8 181.8h0M269.1 194.9h0M257.1 188.3h0M286.6 196.7h0M241.6 189.8h0M275.4 207.7h0M257.5 190.9h0M267.6 191h0M239.2 190h0M286.5 185.8h0M221.2 191.2h0M337.8 187.6h0M298.2 205.4h0M242.2 179.3h0M213.5 179.6h0M276.1 200.7h0M275 177.4h0M249.2 208.5h0M227.9 204.2h0M273.2 205.5h0M241.8 202.8h0M236.6 179.5h0M272.2 202.8h0M363 192.6h0M239.3 175.4h0M271 180.2h0M250.7 174.7h0M235.3 181h0M290.1 204.9h0M241.9 187h0M341.2 176.1h0M217.3 194.4h0M218.5 186.2h0M269.3 187.8h0M233.1 174.2h0M311.2 187.6h0M180.8 202.1h0M241.6 182h0M276.6 203.5h0M343.9 197.6h0M259.6 195.4h0M293.6 205.1h0M240.3 198.8h0M292.6 198.6h0M280 198.4h0M295.1 194.5h0M289 180.6h0M267.8 204.9h0M241.2 192.2h0M234.5 178.4h0M274 203.9h0M231.5 193h0M258.3 200.5h0M308.3 186.9h0M331.8 201.2h0M239.4 194.5h0M232 201.3h0M268.9 185.3h0M259.9 190.1h0M241.7 187.1h0M271.8 178.8h0M321.1 182.8h0M315.5 195h0M313.8 200.5h0M283.1 185.8h0M234.2 198.9h0M171.9 201.1h0M133.8 187.5h0M320.2 183.3h0M152.9 187.3h0M188.7 192.6h0M279.5 204.4h0M186.7 180.2h0M316.2 196.3h0M196.3 200.4h0M247.4 199.5h0M296.2 186.6h0M327.8 208.6h0M302.2 189.2h0M336.2 200.4h0M318.3 184.6h0M221.3 182h0M274.4 188h0M230.4 175h0M277.4 174.7h0M233.5 205.2h0M187.2 184.7h0M266.4 190.6h0M263.1 197.6h0M217 186h0M208.2 202.3h0M224.8 186.1h0M312.1 200.2h0M345.4 202.4h0M288.7 191.6h0M254.8 189.5h0M276 191.6h0M251.3 200h0M361 191.2h0M313.3 180.7h0M292.3 180.7h0M334.2 186.4h0M313.4 185.6h0M328.3 181.5h0M174.7 190.8h0M292.9 187h0M237.5 181h0M336.7 181h0M274.5 203.7h0M223.1 199.7h0M289.8 203.4h0M308.7 199.8h0M177.6 182.6h0M209.5 205.5h0M255.5 176.9h0M134.5 191.4h0"/><path d="M279.2 174.4h0M292.1 188.1h0M278.4 199.7h0M224.3 190.8h0M268.1 188.2h0M264.7 196.6h0M270.2 196.7h0M316.7 187.8h0M269 206.8h0M217.6 206h0M294.5 188.8h0M303.4 202.7h0M155.8 183.5h0M247.1 204.3h0M318.7 208.2h0M228.8 187.1h0M242.2 189.4h0M271.4 200.3h0M297.7 186.4h0M224.1 202.7h0M305.3 175.7h0M248 197.3h0M279.6 196.1h0M248 180.7h0M219.8 195.5h0M332.8 179.6h0M290.9 178.4h0M279.9 185.6h0M255.1 184.1h0M217.9 197.4h0M236.9 176.9h0M290 204h0M297.8 177.5h0M253 183.8h0M206.1 175.2h0M256.2 179.8h0M256.6 196h0M177.1 188.6h0M226.4 196.2h0M307.9 207.5h0M266.2 202.3h0M259.5 205.9h0M192.7 200.9h0M172.2 181.9h0M304.4 196.2h0M246.4 177.8h0M282 181.3h0M339.9 183.9h0M307.8 205h0M272.8 184.8h0M278.5 206.4h0M231.4 179.7h0M319.5 192.5h0M265.8 203.3h0M263 173.2h0M224.1 205.4h0M254.7 173h0M317 174.8h0M263.4 191.6h0M230.5 200.4h0M260.8 176.3h0M303.4 201.1h0M254.7 199.6h0M190.9 205.5h0M303.9 175.9h0M194.9 203h0M272.8 191.5h0M181.1 183.9h0M174.7 188.3h0M249.2 185.6h0M147.6 184.7h0M321 177.8h0M324.9 177.9h0M314.6 203.8h0M237 205.4h0M282.5 194.4h0M305.5 186.1h0M249.7 188.5h0M242.5 206.7h0M298.4 173.9h0M236.4 208.3h0M297.6 208.2h0M242.8 181.1h0M341.4 206.6h0M293.6 201.1h0M325.6 192.9h0M215.9 184.5h0M357.3 199.8h0M327.2 174.1h0M318.3 196.4h0M188.3 181.6h0M270.2 198.4h0M284.6 190.8h0M244.8 188.9h0M258 173.2h0M331.8 208.2h0M262.3 198.4h0M289.6 177.9h0M244.7 183h0M287.9 183.1h0M256.6 190.5h0M244.1 182.9h0M256.2 196h0M228.5 186.5h0M281.8 186.1h0M215.2 196.4h0M316.1 195.9h0M215.7 189.1h0M318.5 195.1h0M222.9 196.2h0M243.7 179.2h0M281 199.2h0M222 176.8h0M234.1 202.6h0M221.1 177.4h0M287.8 207.1h0M184.9 175.1h0M206.2 197.3h0M319.5 200.2h0M329.8 205.4h0M276.7 187.8h0M270.2 177h0M290.4 188.5h0M295.5 197.8h0M226.5 186.9h0M261.8 181.9h0M282.6 182h0M258.6 196.3h0M329.8 179.4h0M332.1 202.2h0M322.9 183.3h0M227.3 192.2h0M318.1 191.5h0M247.7 199.7h0M184.4 175.2h0M369.4 195.4h0M192.8 204.8h0M280 184.1h0M232.3 191.9h0M206.9 195.1h0M313.6 179.9h0M330.6 182.5h0M232.3 173.1h0M123.5 192.1h0"/><path d="M308.1 193h0M281.8 203.3h0M285.9 178.7h0M235.4 203h0M320.6 195.3h0M360.9 188.7h0M240.8 198.5h0M324.1 185.9h0M281.4 196.3h0M241.4 182.3h0M174.7 203.1h0M231.4 179.5h0M220.8 200h0M279.8 196.1h0M280.9 201.8h0M296.7 202.4h0M304.6 177.1h0M256.4 175.5h0M237.8 204.6h0M327.1 176.7h0M278.3 202.7h0M219 199.1h0M297.7 200.8h0M315.3 198.4h0M312.9 180.3h0M299.1 197.8h0M250.4 184.2h0M308.2 201.9h0M296.5 183.5h0M253.4 182.3h0M307.7 186.3h0M288.3 183.6h0M312.7 176.4h0M283 190.1h0M244.4 175.6h0M288.5 185.4h0M309 182.8h0M257.6 184h0M313.6 173.9h0M246.4 192.1h0M248.3 192.2h0M265 191.4h0M271.7 183.7h0M264.1 200.9h0M280.3 185.6h0M251.2 191h0M338.2 188.1h0M291.4 197.2h0M230.3 193.1h0M313.7 198.6h0M224.6 189.4h0M240.6 190.9h0M283 177.8h0M299.4 182.6h0M233.2 184.7h0M224.8 203.9h0M310.9 201.6h0M312.7 181.2h0M226 190.8h0M236.1 197.4h0M224.4 196.2h0M254.7 203.2h0M250.4 179.7h0M259.4 173.8h0M239.8 183.6h0M169.8 188.7h0M228.8 182.5h0M189.3 174.7h0M282.6 197.1h0M319.1 195.8h0M201.6 194.9h0M275.5 182h0M319.5 187.7h0M240.4 208.7h0M188.3 207.7h0M233.9 187h0M200 187.2h0M232.8 206h0M248.1 194.2h0M253.6 200.5h0M155.8 195.7h0M316.6 186.6h0M258.8 173.5h0M234.5 194.5h0M191.6 186.7h0M297 200.1h0M310.9 197.4h0M354.5 184.8h0M275.1 189h0M274.3 183.8h0M283.4 195.7h0M264.8 199.6h0M317.5 181.8h0M216.4 187.2h0M276.4 174.1h0M245.6 185.3h0M287 200.3h0M313.7 205.8h0M189.6 205.3h0M294.6 203.6h0M333.4 189.5h0M249 197.8h0M249.2 183.9h0M271.3 202.5h0M257.9 184.2h0M306.3 193.7h0M312.4 197h0M277.3 188.2h0M290.1 196.9h0M339.6 199.2h0M274.3 205.8h0M256.7 192.2h0M238.7 197.3h0M270 183.4h0M359.6 190.8h0M263 180.3h0M207.4 182.5h0M253.2 193.1h0M245.6 174.5h0M238.3 203.3h0M219.3 194.4h0M284.3 180.5h0M233.8 182.9h0M302.2 202.7h0M337.4 199.4h0M256.8 192.9h0M203.4 176.9h0M295.5 188.2h0M219.5 185.4h0M266.4 190h0M280.5 200.1h0M218.6 181.2h0M193.3 196.4h0M328.8 178.9h0M286.6 174.1h0M300.5 178.4h0M228.3 190.6h0M275.3 202.2h0M219.9 188.8h0M342.8 185.6h0M301.6 186.8h0M309.8 202.5h0M227.9 196.7h0M114.4 189h0"/><path d="M200 186.5h0M247.8 190.5h0M335.2 196.4h0M283.9 201.4h0M309.7 182.6h0M313.7 198.8h0M253.6 195.2h0M262.6 193h0M259.4 175.8h0M319.6 182.8h0M251.9 205.1h0M263.1 181.4h0M335.9 180.1h0M240.8 175.8h0M279.7 191h0M309.4 208h0M303.4 175.9h0M279.7 194h0M339.6 194.5h0M264.7 190.2h0M213 185.9h0M315.1 180.9h0M342.5 180.1h0M249.3 200.6h0M237.3 183.5h0M249.7 193.2h0M304.3 208.7h0M237.8 180.9h0M313 202.7h0M164.7 188.8h0M250.6 179.4h0M206.6 205.6h0M317.2 190.9h0M361.3 186.2h0M211.2 207.7h0M306.2 205.1h0M270.3 207.3h0M330.7 173.2h0M276 182.6h0M320.4 201.1h0M229 182.4h0M246.3 191.8h0M336.4 181.7h0M168.6 180.9h0M266.9 172.9h0M254.5 195.2h0M196.9 203.8h0M201.9 197.8h0M269.6 181.8h0M280.7 193.2h0M214.5 183.8h0M259.3 188.6h0M294 199.1h0M179.5 195.5h0M331.9 182.2h0M205.3 180.6h0M223.6 193.3h0M334.1 205.5h0M349.4 197.6h0M205.2 201.7h0M210.9 190.7h0M312.5 185.8h0M199.4 178.5h0M249.7 179.8h0M301.6 176.9h0M206.6 192.6h0M282 187.8h0M270.1 184.9h0M274.3 204.8h0M231.7 175.4h0M287.4 199.8h0M343 179.4h0M250.8 176.3h0M205.2 199.1h0M233.5 188.9h0M183.4 183.6h0M232.2 200.1h0M284.6 177.9h0M334.3 182.7h0M291.1 197.4h0M326.3 203h0M260.9 187.9h0M280.8 176.2h0M247.7 190.5h0M285.8 173.8h0M183.8 179.8h0M325.1 177.9h0M220.7 177.4h0M242.9 186.2h0M326.7 200.4h0M314.9 186.1h0M193.8 190h0M241.2 186.8h0M228.3 199.4h0M306.4 208.8h0M303.3 174.9h0M324 174.6h0M237.4 201.2h0M372.6 195.5h0M199.5 175.6h0M292 183h0M234.1 193.4h0M345.6 193.9h0M190.4 192.9h0M233.4 201.8h0M338.4 198.3h0M272.7 188.3h0M338.8 181.8h0M243.2 198.4h0M306.4 186.7h0M210.4 177.3h0M309.8 203.5h0M200.5 176.3h0M327 174.6h0M257.6 180.2h0M248.7 202.2h0M310.6 197.3h0M282 193.2h0M297 187.7h0M215.8 181.7h0M288.8 182.2h0M293 183.7h0M242.1 183.9h0M270.1 178.8h0M336.9 183.6h0M205.8 188.4h0M267.3 204.2h0M267.2 200.7h0M315.9 208.5h0M235.9 180.7h0M234.4 191h0M285.6 184.4h0M285.7 173.9h0M267.8 200.9h0M252 188.3h0M242.6 205.5h0M270.3 205.7h0M187.4 202.9h0M238.2 185h0M207.6 176.5h0M280.6 178.1h0M227.3 196.8h0M292.6 190h0M134.4 193.3h0"/><path d="M160 183.4h0M320.4 189.4h0M339.6 203.8h0M265.4 178.4h0M273.9 197.3h0M323.4 175.9h0M269.9 181.9h0M205.5 195.2h0M345.5 194h0M204.5 208.1h0M297.3 189.8h0M283 199.7h0M135.1 194.3h0M368.5 195.1h0M252.9 187h0M230.3 200.2h0M265 176.9h0M327.2 205.9h0M280.1 195.9h0M242.2 205.4h0M255.7 203.2h0M201.6 197.8h0M274.3 190.7h0M326.9 208.7h0M270.5 186.8h0M232.7 187h0M328.1 197.8h0M241 178.6h0M224.2 208.1h0M286.6 180.7h0M257 189.2h0M233.6 187.9h0M218.4 193.1h0M276.4 186.6h0M232.6 199.3h0M283.1 197.2h0M275.7 200.7h0M183.1 197.9h0M255.8 192h0M288.9 197h0M240.8 200.8h0M309.6 204.9h0M180.2 183.2h0M275.4 191h0M243.2 184.6h0M238.5 200.2h0M252.7 203.1h0M251.6 181.4h0M276.5 207.5h0M297.9 177h0M146.1 187.1h0M266.2 176.9h0M257.2 191.4h0M274 176.5h0M242.6 200.9h0M231.5 192.5h0M263.9 207.9h0M251.2 208h0M264.3 207.4h0M251.5 181.5h0M263.9 186.7h0M252.5 189.3h0M192 181.7h0M322.3 191.8h0M167.9 198.4h0M284.3 190h0M251.6 177.5h0M241.6 200.9h0M282.6 202.9h0M242.2 201.3h0M252.4 180.6h0M253.9 173.6h0M263.8 185.6h0M306 193.2h0M239.4 188.1h0M263.5 186.9h0M245.5 186.8h0M252.3 208.8h0M328.4 173.9h0M226.6 193.9h0M297.1 202.2h0M282.4 179.1h0M272.3 208.4h0M252.4 177.6h0M243.4 181.9h0M259.7 183.6h0M297.7 205.8h0M292 207.3h0M286.4 192.9h0M306 175.4h0M236.4 186h0M327.6 183.4h0M218.4 187.9h0M284.6 188.1h0M184 192.8h0M255.8 201.6h0M280.6 202.5h0M139.4 193.7h0M242.6 195.1h0M292.4 180.3h0M228.1 175.6h0M331.6 195.2h0M211.9 175.3h0M271.5 185h0M270.3 208.3h0M296.1 188.5h0M317.2 179.5h0M338.5 190.3h0M262.8 192.1h0M274 191.9h0M298.3 201.8h0M143.6 196.4h0M259.3 190.3h0M249 196.7h0M213.7 175h0M297.9 182h0M220.3 179.1h0M314.7 185.7h0M323.6 182.5h0M283.9 177.1h0M281.8 195.3h0M230 205.2h0M297.8 180.1h0M279.4 191.7h0M274.7 198.6h0M220 186h0M332 176h0M268.7 191.5h0M275.4 187.4h0M231.4 197.8h0M296.8 203.1h0M300.7 191.2h0M240.8 203.4h0M270.2 206h0M293.1 202.5h0M279.9 190.6h0M344 176h0M251.7 200.7h0M208.7 195.2h0M271.8 174.4h0M296.4 180.4h0M229.8 176.9h0M278.4 194.7h0M124.1 189.3h0"/><path d="M279.7 202.3h0M254.3 176.3h0M315.6 207.3h0M238 192.3h0M182.7 192.7h0M285.1 185.7h0M175.6 179.4h0M270.7 182.5h0M225.4 181.8h0M344.1 204.5h0M271.5 183.6h0M242.9 203.6h0M181.6 186h0M307.4 200.4h0M286 193.9h0M225.1 180.9h0M313.9 177.5h0M293.2 192h0M311 182h0M256.3 180.9h0M267.1 202.5h0M293.2 185.6h0M222.9 175.5h0M306.1 186.3h0M290.2 179.4h0M327.1 191.9h0M211.3 194.4h0M214.4 174.7h0M354.4 187h0M275.7 201.8h0M260 189.3h0M189.5 190.5h0M224.2 182.7h0M301.9 193.8h0M275.1 178.8h0M245.7 200.5h0M202.4 173.5h0M201 192.3h0M300.6 197.2h0M219.6 192.5h0M250 178.5h0M233 173.4h0M281.2 181.1h0M188.2 187h0M267.7 204.5h0M250 185.8h0M247.5 174.9h0M276.1 173.1h0M246.1 190.1h0M241.8 187.6h0M311.2 179.2h0M308.2 205.7h0M264.9 208.6h0M303 207.5h0M272.2 186h0M232.5 185.2h0M269.8 201.6h0M152.7 190.5h0M259.3 174.5h0M249.5 192.3h0M260.9 203.4h0M306.8 200.3h0M301.3 193.5h0M211.2 175.5h0M279.2 201.9h0M196.4 204.4h0M271.7 194.7h0M222.2 205.2h0M257.1 203h0M289.1 175.5h0M312.5 207.2h0M251.1 195.2h0M273 193.2h0M165.9 183.2h0M225.6 208.4h0M218.8 205.1h0M191.9 202.2h0M243.5 199.7h0M222.9 199.3h0M338.5 202.1h0M243.6 205.9h0M196.1 201.1h0M289.2 180.3h0M242.6 197.4h0M288 196.2h0M302.9 177h0M241.3 206.7h0M276.8 205.9h0M243.3 187.1h0M202.2 191.6h0M289.7 174.8h0M268 185.9h0M177.8 198.3h0M217.1 181h0M284.7 198.7h0M198.9 176.2h0M216.7 202.2h0M174.5 179.7h0M314.7 189.4h0M324.5 187.9h0M314 181.9h0M325.7 199.9h0M309.5 207.6h0M253.7 176.5h0M214.2 198.7h0M204.3 200.9h0M210.3 206.6h0M274 191.8h0M193.9 174.6h0M279.5 185.5h0M239.1 195.1h0M270.9 178.9h0M283.1 206.2h0M264.5 185.1h0M284.4 207.2h0M190.3 194h0M286.2 196.8h0M256.5 186.1h0M238.8 192.7h0M195.9 205h0M274.4 174.3h0M270.4 199.8h0M252.4 182.2h0M262.6 175.6h0M293.5 190.7h0M268.1 204h0M211 179.9h0M279.5 203.5h0M325 178h0M303 202.3h0M299 192.6h0M247.7 195.7h0M270.4 187.8h0M252 200.2h0M307.5 201.6h0M291.2 199.1h0M284.3 178.2h0M329.6 204.4h0M291.5 193.1h0M300.1 173.2h0M275.6 175.6h0M250.6 181.8h0M230.3 196.7h0M120.6 190.3h0"/><path d="M254.6 175.7h0M281.2 188.9h0M202.6 176.6h0M274.6 183.8h0M256 196.8h0M277 176.7h0M286 178.8h0M199.3 206.6h0M306.9 203h0M257.6 196.7h0M284.5 206.5h0M204 206.7h0M200.2 192h0M270.9 190.6h0M233.3 195.5h0M233.6 205.1h0M282.2 175.8h0M229.4 173h0M264.7 204.4h0M263.7 174.3h0M338 205.5h0M247.7 173.8h0M302.6 197.4h0M300.9 186.9h0M213.4 173.8h0M255.2 181.5h0M288.5 185.1h0M278.7 186.5h0M201.7 204h0M234.2 184.7h0M310.7 206.4h0M333.8 182h0M259.3 181.3h0M321.5 201.1h0M240.7 188h0M335.5 187.8h0M187.2 183.4h0M325.9 184.7h0M330.1 197.3h0M343.5 188.4h0M248.9 188.2h0M229.4 198.7h0M275.8 186.7h0M270.8 180.5h0M274.2 204.9h0M217.8 178.7h0M193 182.8h0M327.1 187.9h0M332.6 185.3h0M318.6 181.7h0M126 188.5h0M261.5 203.1h0M233.1 187.5h0M180.4 178.3h0M223.3 182.2h0M285.2 179.5h0M304.5 205.3h0M280.3 203.5h0M254.6 195h0M288.4 203.7h0M284 185.6h0M206 177.6h0M368.9 196.7h0M285.9 183.5h0M289.6 184.2h0M321.2 193.3h0M253.9 196.8h0M280.3 178.8h0M322.4 176.2h0M314.7 198.6h0M269.7 181h0M280.2 208.8h0M246.1 183.3h0M232.1 193.8h0M217.7 175h0M225.3 193.7h0M330.4 186.4h0M247.8 192.4h0M294 195.9h0M218.1 189.7h0M288 196.1h0M191.4 175.6h0M287.2 208h0M159.3 199h0M229.1 184.2h0M273 187.5h0M250.8 177.3h0M255.1 188.1h0M273 175.4h0M209.6 207h0M233.6 198.5h0M314.8 178h0M312.9 173.9h0M220 179.8h0M245.1 189.6h0M261.4 198.5h0M243.1 195.2h0M185.2 180.4h0M233.6 200.6h0M282.1 175.5h0M284.9 207.4h0M254.5 183.2h0M266.3 195.1h0M238.4 181.7h0M210 173.6h0M219.3 202.9h0M178.4 186.6h0M229.6 182.8h0M294.4 196h0M296.3 191h0M261 184.7h0M247.6 190.2h0M224.8 208.7h0M256.5 184.7h0M250.9 177.8h0M348.2 188.9h0M217.3 201h0M218.2 194.6h0M135.5 189.1h0M296.2 186.5h0M267.4 174.8h0M181.4 181.6h0M247.7 174.1h0M244 193.4h0M231.8 208.7h0M291.5 191.2h0M181 200.9h0M214.2 178.4h0M337.6 187.2h0M298.1 187.4h0M293.5 193.3h0M262.8 184.6h0M331.8 200h0M252.7 198.8h0M273.2 194.1h0M284.9 180.5h0M291 207.8h0M270.5 186.9h0M240.5 191.1h0M273.2 192.6h0M210.5 186.2h0M300 203h0M265.7 189.7h0M113 190.1h0"/><path d="M257.8 188h0M305.8 204.3h0M261.4 173.3h0M281 180.2h0M248.9 203.6h0M276.3 199.4h0M199.7 185.8h0M321.2 196.4h0M290.7 185.7h0M253.4 201.4h0M288.8 185.9h0M310.3 174.4h0M323.5 186.3h0M327.2 198.4h0M235.3 208.4h0M213 178.4h0M289.4 187.1h0M274.5 176.9h0M189.7 175.2h0M262.9 188.9h0M242.8 176.9h0M293.7 182.2h0M228.9 175.6h0M310.8 174.4h0M340.1 207.1h0M265.8 193.9h0M250.1 178.5h0M301.1 199.2h0M284.7 176.6h0M337.3 204.8h0M229.7 187.1h0M279.7 180h0M351.4 202.7h0M298.5 197.4h0M287.1 179.8h0M199.8 180.1h0M341.3 205.2h0M254.5 184.5h0M216.8 196.6h0M232 196.4h0M222 179h0M244.8 200.2h0M206.3 179.6h0M214.2 182.1h0M265.6 194.9h0M244.9 181h0M277.2 194.1h0M254.9 180.1h0M245.3 177.4h0M272.3 178.2h0M235.3 189.8h0M180.2 194.9h0M233.7 202.6h0M272.1 190.9h0M316.3 175.2h0M235 200.9h0M249.8 203.5h0M323.7 180.6h0M320.1 198.1h0M323.1 188.5h0M316 181.7h0M240.3 201.8h0M325.6 195.8h0M245.7 199.9h0M275.7 191.7h0M303.6 198.2h0M194.2 188.7h0M279.3 206.1h0M293.5 173.6h0M319.5 184.2h0M288.3 174.1h0M255.7 182.6h0M264.3 173h0M231.5 183h0M248.1 207.2h0M250.4 178h0M308.8 175.7h0M199.2 173.9h0M213 177h0M303.4 186.6h0M250.3 203.4h0M204.1 200.9h0M236.8 173.8h0M227.5 176.9h0M249.9 208.3h0M285.4 175.7h0M274.7 190.3h0M303 192.6h0M201.4 203.8h0M255.2 195.4h0M228.9 172.8h0M192.5 175.6h0M222.8 208.8h0M242.3 196.1h0M175.1 179.8h0M218.3 191.7h0M328.8 204.9h0M296.5 194.1h0M347.3 196.9h0M223.9 185.3h0M238.6 188.7h0M253.9 205.7h0M312.8 207.9h0M351.2 191h0M342.6 176.3h0M196.5 180.5h0M325 186.4h0M266.5 192.9h0M285.5 203.3h0M308.7 203.1h0M239 184.7h0M225.7 187.4h0M250.1 200.7h0M202.2 198.6h0M269.1 186h0M310 180.7h0M298.7 197.3h0M326.2 201h0M269.7 189.6h0M291.1 189.4h0M300.9 180.6h0M213.7 184.2h0M338.2 199.8h0M267.4 203.9h0M167.1 192.5h0M292 184h0M190.1 178h0M229 182.3h0M258 200.4h0M303.9 177.5h0M278.2 186.4h0M286.6 198.8h0M306.1 177.6h0M246.6 182.7h0M246.1 172.9h0M225.2 183.3h0M276.9 206.6h0M220.6 191.4h0M251.9 197.3h0M267.8 193h0M321.6 174.1h0M267.8 188.5h0M241 177.5h0M134.4 192.2h0"/><path d="M307 201.7h0M254.8 174.7h0M302.7 202.4h0M173.1 186h0M287.3 195.3h0M277 187h0M296.5 185h0M222.2 195.5h0M323.7 173.4h0M268.5 195.9h0M271.5 178.7h0M214.8 184.7h0M252.7 194.2h0M171.1 189.6h0M320.6 184.9h0M257.6 187.1h0M235.2 178.1h0M272.8 187.5h0M281.5 193.2h0M327 177.1h0M261.7 199.3h0M299.5 178.6h0M295.2 196.1h0M266.6 182.6h0M347.4 186.8h0M288.5 177.8h0M218.4 173.4h0M205.9 189.5h0M231.6 190.2h0M207.3 185.2h0M311.1 204.6h0M216.2 181.8h0M278.3 197.4h0M262.6 177h0M325.5 200.8h0M307.2 201.4h0M249.7 199.7h0M311.8 179.3h0M278.8 203.8h0M286 202.8h0M261.7 187.5h0M300.3 196.9h0M287 196.1h0M312.1 204.7h0M322.2 202.8h0M287.9 192.6h0M238.7 173.5h0M222 179.7h0M246 206.7h0M225.2 206.1h0M276.5 192h0M288.6 181.7h0M181.7 194.3h0M259.7 202h0M262.3 177.2h0M179.1 197.1h0M265.5 200.1h0M202.7 196.1h0M208.6 190.1h0M231.9 193.3h0M290.4 183h0M207.9 186h0M368.3 187.3h0M284 180.5h0M266.8 204.7h0M235.3 200.4h0M316.4 201.3h0M223.8 180.1h0M258.4 186.6h0M239.4 178.3h0M250.2 192h0M290.4 206.6h0M348.3 188.3h0M301.6 204.1h0M197.8 196.1h0M337.7 193h0M187.4 181h0M180.8 184.7h0M241.9 199.7h0M323.7 199.5h0M280.8 187.3h0M292.8 190.7h0M293.2 191.8h0M236.8 176.6h0M288.8 184.2h0M359.5 199.2h0M327.8 185.2h0M282.4 173.4h0M273.3 174.2h0M269.9 206.6h0M248.3 203.1h0M285.4 186.5h0M247.3 178.2h0M217.7 183h0M248.2 196.8h0M192.3 204.4h0M229.6 180.2h0M271.1 205.5h0M264.1 192.5h0M330.5 173.8h0M235.4 180.2h0M208.8 189.4h0M252.2 203.9h0M273.3 181.4h0M322.3 201.7h0M246.6 191.8h0M302.5 203.3h0M241.3 179h0M307.1 204.2h0M229.7 200.4h0M264.9 178.1h0M315.2 177.1h0M284.5 185.8h0M239.3 187.6h0M289.5 202.5h0M261.2 184h0M343.7 202.4h0M327.8 200.9h0M229.5 195.2h0M250 178.5h0M294.9 201.2h0M297.3 199.3h0M273.5 205h0M284.1 185.2h0M287.5 174.3h0M287.1 178.9h0M214.5 186.2h0M216.1 192.4h0M339.7 195.3h0M310.4 199.6h0M285 202.5h0M241.7 185.7h0M201 190.5h0M310.4 177.2h0M211.4 181.7h0M313.6 205.5h0M243.4 197.8h0M281.4 201.9h0M237.1 191h0M258.8 176.7h0M278.2 189.3h0M245.2 178.6h0M310.4 193.7h0M120.3 189.1h0"/><path d="M327.8 202.7h0M257.7 181.8h0M239 191.3h0M239.6 197.3h0M254.1 174.6h0M262.3 199.7h0M268.3 175.3h0M287.8 200.1h0M332.4 196.8h0M262.4 183.9h0M313.7 187h0M266 194.8h0M289.7 199.4h0M227.9 176.5h0M226.4 205.3h0M268.8 196.9h0M234.9 208h0M212.2 196.6h0M257.8 193.8h0M328.6 177.5h0M358.8 184.1h0M209.6 189h0M246.9 198.6h0M250 205.6h0M352.3 194.7h0M287.8 208.3h0M248.7 177.9h0M269.2 203.2h0M227.6 202.4h0M245.4 207h0M342.2 174.3h0M208.4 188.6h0M276.8 178h0M220 182.7h0M275.5 199.1h0M257.7 187.8h0M338.4 201.7h0M289.1 175.6h0M233.8 178.1h0M288.3 178h0M204.8 173h0M313.8 179.8h0M248.8 176.5h0M200.6 175h0M183.9 193h0M364.9 191.5h0M292.6 180.8h0M238.9 189.4h0M289.9 197.7h0M209 199.1h0M265.8 176.6h0M230 193.6h0M327.4 201.6h0M255.1 181.2h0M253 199.5h0M256 175.3h0M275.8 205.4h0M306.9 205.7h0M225.8 188.3h0M306.9 187.6h0M248.1 173.6h0M294.7 181.8h0M299.2 206.2h0M305.5 183.8h0M276.5 173.5h0M291.7 172.9h0M290.4 200.4h0M271.4 174.1h0M240.3 206.8h0M268.7 178h0M279.4 189.9h0M272.9 186.7h0M319.6 200.1h0M260.1 181h0M226.9 189.8h0M254.3 184h0M269.3 188.1h0M244.4 179.6h0M191 207h0M215.3 190.6h0M258.2 194.1h0M248.3 203.8h0M278.8 190.6h0M289 190.4h0M336 198.3h0M310.9 198.2h0M234.3 185.2h0M230 207.1h0M265.1 173.6h0M283.1 206.9h0M239.5 173h0M252.8 203.6h0M268.9 201.3h0M274.7 195.1h0M284.9 181.5h0M156.1 191.3h0M278.5 206.8h0M323.6 206.4h0M309.6 184.8h0M202.2 201.8h0M223.8 175.5h0M356.1 184.2h0M299 173.9h0M188.3 195.5h0M198.9 187.5h0M299.8 184.1h0M252.6 199.9h0M240.8 187.9h0M195.1 173.6h0M303 202.5h0M242.9 188.9h0M229.5 177.9h0M295.8 179.2h0M331.7 182.8h0M269.1 200.9h0M258.5 199.7h0M280.2 194.8h0M161.8 192h0M320.8 200.7h0M267.3 187.6h0M278.2 179.1h0M287.6 188.8h0M271.5 180.7h0M343.5 197.2h0M252.9 185.4h0M286.3 183.5h0M297.8 178.2h0M269.9 195.7h0M217.4 198.6h0M274.9 197.7h0M292.6 194.9h0M252.7 205.7h0M239.3 193.3h0M261.5 206.6h0M282.1 178.1h0M284.1 189.9h0M276.1 184.9h0M260.1 198.8h0M252.8 197.8h0M234.9 174.2h0M260.1 188.5h0M301.4 177.5h0M249.8 183.2h0M394.2 189h0"/></g>
<circle cx="434" cy="72.4" r="2.1" fill="#2a2a2a"/>
<circle cx="445" cy="72.4" r="2.1" fill="#2a2a2a"/>
<circle cx="450" cy="72.4" r="2.1" fill="#2a2a2a"/>
<circle cx="465" cy="72.4" r="2.1" fill="#2a2a2a"/>
<circle cx="543" cy="72.4" r="2.1" fill="#2a2a2a"/>
<circle cx="162.5" cy="190.8" r="2.1" fill="#2a2a2a"/>
<circle cx="404" cy="190.8" r="2.1" fill="#2a2a2a"/>
<circle cx="410" cy="190.8" r="2.1" fill="#2a2a2a"/>
<circle cx="416" cy="190.8" r="2.1" fill="#2a2a2a"/>
<circle cx="424" cy="190.8" r="2.1" fill="#2a2a2a"/>
<circle cx="430" cy="190.8" r="2.1" fill="#2a2a2a"/>
<circle cx="438" cy="190.8" r="2.1" fill="#2a2a2a"/>
<circle cx="446" cy="190.8" r="2.1" fill="#2a2a2a"/>
<circle cx="452" cy="190.8" r="2.1" fill="#2a2a2a"/>
<circle cx="464.4" cy="190.8" r="2.1" fill="#2a2a2a"/>
<circle cx="467" cy="190.8" r="2.1" fill="#2a2a2a"/>
<circle cx="476" cy="190.8" r="2.1" fill="#2a2a2a"/>
<circle cx="479" cy="190.8" r="2.1" fill="#2a2a2a"/>
<circle cx="484.6" cy="190.8" r="2.1" fill="#2a2a2a"/>
<circle cx="492.5" cy="190.8" r="2.1" fill="#2a2a2a"/>
<circle cx="538" cy="190.8" r="2.1" fill="#2a2a2a"/>
<circle cx="559.5" cy="190.8" r="2.1" fill="#2a2a2a"/>
<path d="M109.6,190.8 C109.6,188.3 110.5,187.9 113,187.9 L128,189.6 L128,192 L113,193.7 C110.5,193.7 109.6,193.3 109.6,190.8Z" fill="#2a2a2a"/>
<path d="M83,2 V261.7 H683" fill="none" stroke="#000" stroke-width="1.8"/>
<line x1="79" y1="72.4" x2="83" y2="72.4" stroke="#333" stroke-width="1.2"/>
<line x1="79" y1="190.8" x2="83" y2="190.8" stroke="#333" stroke-width="1.2"/>
<line x1="110" y1="261.7" x2="110" y2="265.2" stroke="#222" stroke-width="1.5"/>
<text x="110" y="278.6" font-size="16" fill="#383838" text-anchor="middle">0</text>
<line x1="262" y1="261.7" x2="262" y2="265.2" stroke="#222" stroke-width="1.5"/>
<text x="262" y="278.6" font-size="16" fill="#383838" text-anchor="middle">5</text>
<line x1="414" y1="261.7" x2="414" y2="265.2" stroke="#222" stroke-width="1.5"/>
<text x="414" y="278.6" font-size="16" fill="#383838" text-anchor="middle">10</text>
<line x1="566" y1="261.7" x2="566" y2="265.2" stroke="#222" stroke-width="1.5"/>
<text x="566" y="278.6" font-size="16" fill="#383838" text-anchor="middle">15</text>
<text x="72.3" y="76.6" font-size="15.7" fill="#000" text-anchor="end">ASE</text>
<text x="69.8" y="196.2" font-size="15" fill="#000" text-anchor="end">non-ASE</text>
<text x="321.5" y="292.4" font-size="15.5" fill="#000">Log2(CPM)</text>
<path d="M568.7,72.4 H582.5 V190.5 H568.7" fill="none" stroke="#333" stroke-width="1.3"/>
<text x="592.5" y="128.4" font-size="15.5" fill="#000"><tspan font-style="italic">P</tspan> = 0.79</text>
<text x="-0.2" y="331.8" font-size="19.2" font-weight="bold" fill="#000">b</text>
<text x="115" y="337.4" font-size="15.8" fill="#000">Spearman correlation = 0.932</text>
<text x="180" y="354" font-size="14" fill="#000"><tspan font-style="italic" font-size="15.5">P</tspan> &lt; 2.2x10<tspan font-size="9.8" dx="0.8" dy="-5.2">-16</tspan></text>
<path d="M98.9,556.3 L101.1,547.2 L103.7,542 L106.3,535.4 L107.6,530.1 L112.9,526.2 L118.1,527.5 L124.7,524.2 L130,526.2 L131.9,518.3 L137.8,511.7 L141.8,516.3 L145.7,511 L151,507.1 L156.2,501.9 L161.5,499.9 L165.4,497.3 L172,496 L175,495.3 L173.4,501.1 L164.9,505.1 L166.2,513 L160.9,516.9 L155.7,518.2 L153,526.1 L155.7,530 L149.1,535.3 L143.8,528.7 L138.6,532.7 L136,539.2 L130.7,541.9 L125.4,540.6 L122.8,545.8 L122.8,552.4 L118.9,554.4 L113.6,552.4 L107.1,554.4 L101.8,555Z" fill="#4bb8d3"/>
<path d="M324.7 368.3l3.8 3.8l-3.8 3.8l-3.8 -3.8zM316.6 373.8l3.8 3.8l-3.8 3.8l-3.8 -3.8zM317 380.3l3.8 3.8l-3.8 3.8l-3.8 -3.8zM329.5 380.8l3.8 3.8l-3.8 3.8l-3.8 -3.8zM292.5 390.6l3.8 3.8l-3.8 3.8l-3.8 -3.8zM290 403.3l3.8 3.8l-3.8 3.8l-3.8 -3.8zM302.1 419.1l3.8 3.8l-3.8 3.8l-3.8 -3.8zM272.1 411.4l3.8 3.8l-3.8 3.8l-3.8 -3.8zM250.2 420.8l3.8 3.8l-3.8 3.8l-3.8 -3.8zM255.7 422.4l3.8 3.8l-3.8 3.8l-3.8 -3.8zM261.2 421.2l3.8 3.8l-3.8 3.8l-3.8 -3.8zM232 426.7l3.8 3.8l-3.8 3.8l-3.8 -3.8zM240.4 435.5l3.8 3.8l-3.8 3.8l-3.8 -3.8zM236 437.7l3.8 3.8l-3.8 3.8l-3.8 -3.8zM231.6 441l3.8 3.8l-3.8 3.8l-3.8 -3.8zM250.9 439.4l3.8 3.8l-3.8 3.8l-3.8 -3.8zM222.8 443.2l3.8 3.8l-3.8 3.8l-3.8 -3.8zM241 451.3l3.8 3.8l-3.8 3.8l-3.8 -3.8zM229.4 464l3.8 3.8l-3.8 3.8l-3.8 -3.8zM196.6 457.4l3.8 3.8l-3.8 3.8l-3.8 -3.8zM203.1 457.4l3.8 3.8l-3.8 3.8l-3.8 -3.8zM211.9 456.3l3.8 3.8l-3.8 3.8l-3.8 -3.8zM194.4 467.2l3.8 3.8l-3.8 3.8l-3.8 -3.8zM209.7 469.4l3.8 3.8l-3.8 3.8l-3.8 -3.8zM205.3 471.6l3.8 3.8l-3.8 3.8l-3.8 -3.8zM178.5 448.5l3.8 3.8l-3.8 3.8l-3.8 -3.8zM185.1 458.9l3.8 3.8l-3.8 3.8l-3.8 -3.8zM183.2 463.6l3.8 3.8l-3.8 3.8l-3.8 -3.8zM187 469.3l3.8 3.8l-3.8 3.8l-3.8 -3.8zM189.9 471.2l3.8 3.8l-3.8 3.8l-3.8 -3.8zM178.5 473.2l3.8 3.8l-3.8 3.8l-3.8 -3.8zM195.5 457l3.8 3.8l-3.8 3.8l-3.8 -3.8zM200.3 457l3.8 3.8l-3.8 3.8l-3.8 -3.8zM204.1 457l3.8 3.8l-3.8 3.8l-3.8 -3.8zM210.7 456.1l3.8 3.8l-3.8 3.8l-3.8 -3.8zM215.5 455.1l3.8 3.8l-3.8 3.8l-3.8 -3.8zM206.9 462.7l3.8 3.8l-3.8 3.8l-3.8 -3.8zM195.5 467.4l3.8 3.8l-3.8 3.8l-3.8 -3.8zM198.4 471.2l3.8 3.8l-3.8 3.8l-3.8 -3.8zM206 471.2l3.8 3.8l-3.8 3.8l-3.8 -3.8zM210.4 469.3l3.8 3.8l-3.8 3.8l-3.8 -3.8zM183.2 476.9l3.8 3.8l-3.8 3.8l-3.8 -3.8zM180.4 482.6l3.8 3.8l-3.8 3.8l-3.8 -3.8zM187 480.7l3.8 3.8l-3.8 3.8l-3.8 -3.8zM169.9 485.5l3.8 3.8l-3.8 3.8l-3.8 -3.8zM195.2 487.9l3.8 3.8l-3.8 3.8l-3.8 -3.8zM182.3 490.2l3.8 3.8l-3.8 3.8l-3.8 -3.8zM187 494l3.8 3.8l-3.8 3.8l-3.8 -3.8zM175.6 498.8l3.8 3.8l-3.8 3.8l-3.8 -3.8zM169 494l3.8 3.8l-3.8 3.8l-3.8 -3.8zM163.3 494l3.8 3.8l-3.8 3.8l-3.8 -3.8zM153.8 497.8l3.8 3.8l-3.8 3.8l-3.8 -3.8zM161.4 505.4l3.8 3.8l-3.8 3.8l-3.8 -3.8zM163.3 511.1l3.8 3.8l-3.8 3.8l-3.8 -3.8zM181.9 509.2l3.8 3.8l-3.8 3.8l-3.8 -3.8zM167.1 523.4l3.8 3.8l-3.8 3.8l-3.8 -3.8zM223.1 442.8l3.8 3.8l-3.8 3.8l-3.8 -3.8zM231.6 426.6l3.8 3.8l-3.8 3.8l-3.8 -3.8zM229.3 463.3l3.8 3.8l-3.8 3.8l-3.8 -3.8zM241.1 450.7l3.8 3.8l-3.8 3.8l-3.8 -3.8zM250.6 439.4l3.8 3.8l-3.8 3.8l-3.8 -3.8zM231.6 440.9l3.8 3.8l-3.8 3.8l-3.8 -3.8zM237.3 436.1l3.8 3.8l-3.8 3.8l-3.8 -3.8zM241.1 434.2l3.8 3.8l-3.8 3.8l-3.8 -3.8zM249.6 420l3.8 3.8l-3.8 3.8l-3.8 -3.8zM254.4 421.9l3.8 3.8l-3.8 3.8l-3.8 -3.8zM260.1 421.9l3.8 3.8l-3.8 3.8l-3.8 -3.8zM263.9 419l3.8 3.8l-3.8 3.8l-3.8 -3.8zM94.2 543.4l3.8 3.8l-3.8 3.8l-3.8 -3.8zM106 511.2l3.8 3.8l-3.8 3.8l-3.8 -3.8zM111.3 514.4l3.8 3.8l-3.8 3.8l-3.8 -3.8zM167.1 523.6l3.8 3.8l-3.8 3.8l-3.8 -3.8zM170.4 486.9l3.8 3.8l-3.8 3.8l-3.8 -3.8zM220 448.2l3.8 3.8l-3.8 3.8l-3.8 -3.8zM214 452.2l3.8 3.8l-3.8 3.8l-3.8 -3.8zM226 445.2l3.8 3.8l-3.8 3.8l-3.8 -3.8zM190 476.2l3.8 3.8l-3.8 3.8l-3.8 -3.8zM178 484.2l3.8 3.8l-3.8 3.8l-3.8 -3.8zM172 490.2l3.8 3.8l-3.8 3.8l-3.8 -3.8zM160 499.2l3.8 3.8l-3.8 3.8l-3.8 -3.8zM150 504.2l3.8 3.8l-3.8 3.8l-3.8 -3.8zM145 508.2l3.8 3.8l-3.8 3.8l-3.8 -3.8zM140 512.2l3.8 3.8l-3.8 3.8l-3.8 -3.8zM168 497.2l3.8 3.8l-3.8 3.8l-3.8 -3.8zM173.3 496.7l3.8 3.8l-3.8 3.8l-3.8 -3.8zM176.6 493.7l3.8 3.8l-3.8 3.8l-3.8 -3.8zM177.7 487.9l3.8 3.8l-3.8 3.8l-3.8 -3.8zM181.5 485.5l3.8 3.8l-3.8 3.8l-3.8 -3.8zM184.7 482.3l3.8 3.8l-3.8 3.8l-3.8 -3.8zM189.7 481.4l3.8 3.8l-3.8 3.8l-3.8 -3.8zM192.3 477.5l3.8 3.8l-3.8 3.8l-3.8 -3.8zM196.9 476.1l3.8 3.8l-3.8 3.8l-3.8 -3.8zM196.8 468.9l3.8 3.8l-3.8 3.8l-3.8 -3.8zM205 472l3.8 3.8l-3.8 3.8l-3.8 -3.8zM206.1 466.3l3.8 3.8l-3.8 3.8l-3.8 -3.8zM210.7 464.9l3.8 3.8l-3.8 3.8l-3.8 -3.8zM213.1 460.7l3.8 3.8l-3.8 3.8l-3.8 -3.8zM216.2 457.5l3.8 3.8l-3.8 3.8l-3.8 -3.8zM220.8 456.1l3.8 3.8l-3.8 3.8l-3.8 -3.8zM224.8 454l3.8 3.8l-3.8 3.8l-3.8 -3.8zM226.9 449.4l3.8 3.8l-3.8 3.8l-3.8 -3.8zM230.4 446.7l3.8 3.8l-3.8 3.8l-3.8 -3.8zM235.1 445.4l3.8 3.8l-3.8 3.8l-3.8 -3.8zM236.4 439.9l3.8 3.8l-3.8 3.8l-3.8 -3.8zM239 436l3.8 3.8l-3.8 3.8l-3.8 -3.8zM245.1 436.5l3.8 3.8l-3.8 3.8l-3.8 -3.8zM247.1 431.9l3.8 3.8l-3.8 3.8l-3.8 -3.8zM248.9 427l3.8 3.8l-3.8 3.8l-3.8 -3.8zM253.9 426.1l3.8 3.8l-3.8 3.8l-3.8 -3.8zM197 462.2l3.8 3.8l-3.8 3.8l-3.8 -3.8zM201 466.2l3.8 3.8l-3.8 3.8l-3.8 -3.8zM205 464.2l3.8 3.8l-3.8 3.8l-3.8 -3.8zM208 468.2l3.8 3.8l-3.8 3.8l-3.8 -3.8zM193 471.2l3.8 3.8l-3.8 3.8l-3.8 -3.8zM199 474.2l3.8 3.8l-3.8 3.8l-3.8 -3.8zM98.9 552.5l3.8 3.8l-3.8 3.8l-3.8 -3.8zM101.8 544.2l3.8 3.8l-3.8 3.8l-3.8 -3.8zM104.4 539l3.8 3.8l-3.8 3.8l-3.8 -3.8zM107 532.4l3.8 3.8l-3.8 3.8l-3.8 -3.8zM108.3 527.1l3.8 3.8l-3.8 3.8l-3.8 -3.8zM113.6 523.2l3.8 3.8l-3.8 3.8l-3.8 -3.8zM118.8 524.5l3.8 3.8l-3.8 3.8l-3.8 -3.8zM125.4 521.2l3.8 3.8l-3.8 3.8l-3.8 -3.8zM130.7 523.2l3.8 3.8l-3.8 3.8l-3.8 -3.8zM132.6 515.3l3.8 3.8l-3.8 3.8l-3.8 -3.8zM138.5 508.7l3.8 3.8l-3.8 3.8l-3.8 -3.8zM142.5 513.3l3.8 3.8l-3.8 3.8l-3.8 -3.8zM146.4 508l3.8 3.8l-3.8 3.8l-3.8 -3.8zM151.7 504.1l3.8 3.8l-3.8 3.8l-3.8 -3.8zM156.9 498.9l3.8 3.8l-3.8 3.8l-3.8 -3.8zM162.2 496.9l3.8 3.8l-3.8 3.8l-3.8 -3.8zM166.1 494.3l3.8 3.8l-3.8 3.8l-3.8 -3.8zM172.7 493l3.8 3.8l-3.8 3.8l-3.8 -3.8zM175 491.5l3.8 3.8l-3.8 3.8l-3.8 -3.8zM172.7 496.5l3.8 3.8l-3.8 3.8l-3.8 -3.8zM164.2 500.5l3.8 3.8l-3.8 3.8l-3.8 -3.8zM165.5 508.4l3.8 3.8l-3.8 3.8l-3.8 -3.8zM160.2 512.3l3.8 3.8l-3.8 3.8l-3.8 -3.8zM155 513.6l3.8 3.8l-3.8 3.8l-3.8 -3.8zM152.3 521.5l3.8 3.8l-3.8 3.8l-3.8 -3.8zM155 525.4l3.8 3.8l-3.8 3.8l-3.8 -3.8zM148.4 530.7l3.8 3.8l-3.8 3.8l-3.8 -3.8zM143.1 524.1l3.8 3.8l-3.8 3.8l-3.8 -3.8zM137.9 528.1l3.8 3.8l-3.8 3.8l-3.8 -3.8zM135.3 534.6l3.8 3.8l-3.8 3.8l-3.8 -3.8zM130 537.3l3.8 3.8l-3.8 3.8l-3.8 -3.8zM124.7 536l3.8 3.8l-3.8 3.8l-3.8 -3.8zM122.1 541.2l3.8 3.8l-3.8 3.8l-3.8 -3.8zM122.1 547.8l3.8 3.8l-3.8 3.8l-3.8 -3.8zM118.2 549.8l3.8 3.8l-3.8 3.8l-3.8 -3.8zM112.9 547.8l3.8 3.8l-3.8 3.8l-3.8 -3.8zM106.4 549.8l3.8 3.8l-3.8 3.8l-3.8 -3.8zM101.3 550.6l3.8 3.8l-3.8 3.8l-3.8 -3.8z" fill="#4bb8d3"/>
<line x1="94" y1="560.2" x2="329" y2="372" stroke="#8a8db5" stroke-width="3.6"/>
<path d="M82.8,361.8 V569.8 H341" fill="none" stroke="#000" stroke-width="1.8"/>
<line x1="79" y1="362.5" x2="82.8" y2="362.5" stroke="#222" stroke-width="1.4"/>
<text x="74.5" y="367.5" font-size="13.8" fill="#000" text-anchor="end">1000</text>
<line x1="79" y1="426.5" x2="82.8" y2="426.5" stroke="#222" stroke-width="1.4"/>
<text x="73.7" y="431.5" font-size="13.8" fill="#000" text-anchor="end">100</text>
<line x1="79" y1="490" x2="82.8" y2="490" stroke="#222" stroke-width="1.4"/>
<text x="72.6" y="495" font-size="13.8" fill="#000" text-anchor="end">10</text>
<line x1="79" y1="554" x2="82.8" y2="554" stroke="#222" stroke-width="1.4"/>
<text x="72.4" y="559" font-size="13.8" fill="#000" text-anchor="end">1</text>
<line x1="103" y1="569.8" x2="103" y2="573.5" stroke="#222" stroke-width="1.4"/>
<text x="102.9" y="586.4" font-size="13.8" fill="#000" text-anchor="middle">1</text>
<line x1="182.2" y1="569.8" x2="182.2" y2="573.5" stroke="#222" stroke-width="1.4"/>
<text x="182.8" y="586.4" font-size="13.8" fill="#000" text-anchor="middle">10</text>
<line x1="260.5" y1="569.8" x2="260.5" y2="573.5" stroke="#222" stroke-width="1.4"/>
<text x="262.8" y="586.4" font-size="13.8" fill="#000" text-anchor="middle">100</text>
<line x1="340" y1="569.8" x2="340" y2="573.5" stroke="#222" stroke-width="1.4"/>
<text x="342" y="586.4" font-size="13.8" fill="#000" text-anchor="middle">1000</text>
<text y="608" font-size="15.7" fill="#000"><tspan x="150.4">BASE</tspan><tspan x="199.6">allelic</tspan><tspan x="241.9">ratio</tspan></text>
<text transform="translate(40.8,0) rotate(-90)" font-size="15.6" fill="#000"><tspan x="-518.6">aSCAN</tspan><tspan x="-461">allelic</tspan><tspan x="-417.9">ratio</tspan></text>
<text x="368.4" y="332" font-size="19.2" font-weight="bold" fill="#000">c</text>
<text x="433.3" y="336.2" font-size="15.8" fill="#000">Spearman correlation = 0.997</text>
<text x="501.5" y="353.6" font-size="14" fill="#000"><tspan font-style="italic" font-size="15.5">P</tspan> &lt; 2.2x10<tspan font-size="9.8" dx="0.8" dy="-5.2">-16</tspan></text>
<path d="M666.2 378.8l3.8 3.8l-3.8 3.8l-3.8 -3.8zM642.8 379.8l3.8 3.8l-3.8 3.8l-3.8 -3.8zM629.6 396.1l3.8 3.8l-3.8 3.8l-3.8 -3.8zM618.7 411.4l3.8 3.8l-3.8 3.8l-3.8 -3.8zM588 408.8l3.8 3.8l-3.8 3.8l-3.8 -3.8zM578.2 421.5l3.8 3.8l-3.8 3.8l-3.8 -3.8zM578.2 424.1l3.8 3.8l-3.8 3.8l-3.8 -3.8zM557.4 439.4l3.8 3.8l-3.8 3.8l-3.8 -3.8zM563.9 439l3.8 3.8l-3.8 3.8l-3.8 -3.8zM567.2 440.1l3.8 3.8l-3.8 3.8l-3.8 -3.8zM559.6 452.5l3.8 3.8l-3.8 3.8l-3.8 -3.8zM562.8 453.6l3.8 3.8l-3.8 3.8l-3.8 -3.8zM558.5 455.8l3.8 3.8l-3.8 3.8l-3.8 -3.8zM537.7 459.1l3.8 3.8l-3.8 3.8l-3.8 -3.8zM542 457.4l3.8 3.8l-3.8 3.8l-3.8 -3.8zM543.1 468.5l3.8 3.8l-3.8 3.8l-3.8 -3.8zM532.2 467.9l3.8 3.8l-3.8 3.8l-3.8 -3.8zM533.3 473.3l3.8 3.8l-3.8 3.8l-3.8 -3.8zM443.1 503.9l3.8 3.8l-3.8 3.8l-3.8 -3.8zM458.2 517.4l3.8 3.8l-3.8 3.8l-3.8 -3.8zM473.4 513.2l3.8 3.8l-3.8 3.8l-3.8 -3.8zM497.1 493.9l3.8 3.8l-3.8 3.8l-3.8 -3.8zM502.3 492.1l3.8 3.8l-3.8 3.8l-3.8 -3.8zM502.9 498.6l3.8 3.8l-3.8 3.8l-3.8 -3.8zM509.3 493.4l3.8 3.8l-3.8 3.8l-3.8 -3.8zM516.4 475.8l3.8 3.8l-3.8 3.8l-3.8 -3.8zM521.3 471.5l3.8 3.8l-3.8 3.8l-3.8 -3.8zM524.2 479.3l3.8 3.8l-3.8 3.8l-3.8 -3.8zM532.1 467.6l3.8 3.8l-3.8 3.8l-3.8 -3.8zM533.9 473.2l3.8 3.8l-3.8 3.8l-3.8 -3.8zM430.5 552.9l3.8 3.8l-3.8 3.8l-3.8 -3.8zM433.1 548.5l3.8 3.8l-3.8 3.8l-3.8 -3.8zM437.5 541.5l3.8 3.8l-3.8 3.8l-3.8 -3.8zM439.3 538.9l3.8 3.8l-3.8 3.8l-3.8 -3.8zM441 552l3.8 3.8l-3.8 3.8l-3.8 -3.8zM446.3 545.9l3.8 3.8l-3.8 3.8l-3.8 -3.8zM435.8 545l3.8 3.8l-3.8 3.8l-3.8 -3.8zM450.7 532.8l3.8 3.8l-3.8 3.8l-3.8 -3.8zM460.3 526.6l3.8 3.8l-3.8 3.8l-3.8 -3.8zM465.6 524l3.8 3.8l-3.8 3.8l-3.8 -3.8zM481.3 511.7l3.8 3.8l-3.8 3.8l-3.8 -3.8zM491.8 504.7l3.8 3.8l-3.8 3.8l-3.8 -3.8zM565 438.2l3.8 3.8l-3.8 3.8l-3.8 -3.8zM556.9 438.2l3.8 3.8l-3.8 3.8l-3.8 -3.8zM587.7 408.3l3.8 3.8l-3.8 3.8l-3.8 -3.8zM619 411.2l3.8 3.8l-3.8 3.8l-3.8 -3.8zM577.7 421.6l3.8 3.8l-3.8 3.8l-3.8 -3.8zM548 462.2l3.8 3.8l-3.8 3.8l-3.8 -3.8zM552 458.2l3.8 3.8l-3.8 3.8l-3.8 -3.8zM451.3 532.6l3.8 3.8l-3.8 3.8l-3.8 -3.8zM460 526.1l3.8 3.8l-3.8 3.8l-3.8 -3.8zM464.4 523.1l3.8 3.8l-3.8 3.8l-3.8 -3.8zM481.2 510l3.8 3.8l-3.8 3.8l-3.8 -3.8zM434.6 554.6l3.8 3.8l-3.8 3.8l-3.8 -3.8zM436.2 549.7l3.8 3.8l-3.8 3.8l-3.8 -3.8zM440.8 548.3l3.8 3.8l-3.8 3.8l-3.8 -3.8zM443.8 545.1l3.8 3.8l-3.8 3.8l-3.8 -3.8zM447.2 542.4l3.8 3.8l-3.8 3.8l-3.8 -3.8zM450.7 539.8l3.8 3.8l-3.8 3.8l-3.8 -3.8zM453.4 536.2l3.8 3.8l-3.8 3.8l-3.8 -3.8zM458.1 535.1l3.8 3.8l-3.8 3.8l-3.8 -3.8zM461.3 532.1l3.8 3.8l-3.8 3.8l-3.8 -3.8zM466.2 531.3l3.8 3.8l-3.8 3.8l-3.8 -3.8zM468.5 527.1l3.8 3.8l-3.8 3.8l-3.8 -3.8zM471.6 524.1l3.8 3.8l-3.8 3.8l-3.8 -3.8zM475.1 521.4l3.8 3.8l-3.8 3.8l-3.8 -3.8zM478.3 518.5l3.8 3.8l-3.8 3.8l-3.8 -3.8zM481.6 515.6l3.8 3.8l-3.8 3.8l-3.8 -3.8zM485.2 513.2l3.8 3.8l-3.8 3.8l-3.8 -3.8zM488.9 510.8l3.8 3.8l-3.8 3.8l-3.8 -3.8zM492.1 507.8l3.8 3.8l-3.8 3.8l-3.8 -3.8zM495.9 505.6l3.8 3.8l-3.8 3.8l-3.8 -3.8zM498.9 502.3l3.8 3.8l-3.8 3.8l-3.8 -3.8zM502.3 499.7l3.8 3.8l-3.8 3.8l-3.8 -3.8zM506.3 497.7l3.8 3.8l-3.8 3.8l-3.8 -3.8zM509.3 494.5l3.8 3.8l-3.8 3.8l-3.8 -3.8zM512.3 491.2l3.8 3.8l-3.8 3.8l-3.8 -3.8zM515.8 488.6l3.8 3.8l-3.8 3.8l-3.8 -3.8zM518.9 485.5l3.8 3.8l-3.8 3.8l-3.8 -3.8zM522.8 483.4l3.8 3.8l-3.8 3.8l-3.8 -3.8zM525.4 479.6l3.8 3.8l-3.8 3.8l-3.8 -3.8zM528.8 476.9l3.8 3.8l-3.8 3.8l-3.8 -3.8zM532.6 474.7l3.8 3.8l-3.8 3.8l-3.8 -3.8zM535.3 471.1l3.8 3.8l-3.8 3.8l-3.8 -3.8zM538.9 468.7l3.8 3.8l-3.8 3.8l-3.8 -3.8zM542.8 466.5l3.8 3.8l-3.8 3.8l-3.8 -3.8zM546 463.6l3.8 3.8l-3.8 3.8l-3.8 -3.8z" fill="#4bb8d3"/>
<line x1="431" y1="558" x2="666" y2="368.6" stroke="#8a8db5" stroke-width="3.6"/>
<path d="M419,358.6 V566.5 H677" fill="none" stroke="#000" stroke-width="1.8"/>
<line x1="415.2" y1="376.8" x2="419" y2="376.8" stroke="#222" stroke-width="1.4"/>
<text x="412.8" y="381.8" font-size="13.8" fill="#111" text-anchor="end">1000</text>
<line x1="415.2" y1="436.8" x2="419" y2="436.8" stroke="#222" stroke-width="1.4"/>
<text x="412.7" y="441.8" font-size="13.8" fill="#1f1f5e" text-anchor="end">100</text>
<line x1="415.2" y1="496.5" x2="419" y2="496.5" stroke="#222" stroke-width="1.4"/>
<text x="412.2" y="501.5" font-size="13.8" fill="#111" text-anchor="end">10</text>
<line x1="415.2" y1="556.9" x2="419" y2="556.9" stroke="#222" stroke-width="1.4"/>
<text x="410.9" y="561.9" font-size="13.8" fill="#111" text-anchor="end">1</text>
<line x1="431.2" y1="566.5" x2="431.2" y2="570" stroke="#222" stroke-width="1.4"/>
<text x="431.2" y="583" font-size="13.8" fill="#000" text-anchor="middle">1</text>
<line x1="510.5" y1="566.5" x2="510.5" y2="570" stroke="#222" stroke-width="1.4"/>
<text x="510.5" y="583" font-size="13.8" fill="#000" text-anchor="middle">10</text>
<line x1="589" y1="566.5" x2="589" y2="570" stroke="#222" stroke-width="1.4"/>
<text x="589" y="583" font-size="13.8" fill="#000" text-anchor="middle">100</text>
<line x1="667.4" y1="566.5" x2="667.4" y2="570" stroke="#222" stroke-width="1.4"/>
<text x="667.4" y="583" font-size="13.8" fill="#000" text-anchor="middle">1000</text>
<text y="602.6" font-size="15.7" fill="#000"><tspan x="490.9">BASE</tspan><tspan x="540.3">allelic</tspan><tspan x="580.9">ratio</tspan></text>
<text transform="translate(379.4,0) rotate(-90)" font-size="16" fill="#000"><tspan x="-524.7">MBASED</tspan><tspan x="-451.8">allelic</tspan><tspan x="-409">ratio</tspan></text>
<circle cx="180" cy="709.6" r="65.2" fill="none" stroke="#74c849" stroke-width="1.5"/>
<circle cx="253.8" cy="709.6" r="65.2" fill="none" stroke="#e6be5a" stroke-width="1.5"/>
<circle cx="217.2" cy="774.4" r="65.2" fill="none" stroke="#bf4a4a" stroke-width="1.5"/>
<text x="73" y="653.5" font-size="15.7" fill="#000">MBASED</text>
<text x="295.5" y="654" font-size="15.7" fill="#000">aScan</text>
<text x="284.8" y="807.6" font-size="15.7" fill="#000">BASE</text>
<text x="159.6" y="707.0" font-size="14.2" fill="#000" text-anchor="middle">20</text>
<text x="216.7" y="695.5" font-size="14.2" fill="#000" text-anchor="middle">4</text>
<text x="275.9" y="707.0" font-size="14.2" fill="#000" text-anchor="middle">133</text>
<text x="216.7" y="736.1" font-size="14.2" fill="#000" text-anchor="middle">324</text>
<text x="179.9" y="757.1" font-size="14.2" fill="#000" text-anchor="middle">16</text>
<text x="251.4" y="757.1" font-size="14.2" fill="#000" text-anchor="middle">260</text>
<text x="218.4" y="800.6" font-size="14.2" fill="#000" text-anchor="middle">39</text>
<circle cx="522" cy="709.6" r="65.2" fill="none" stroke="#74c849" stroke-width="1.5"/>
<circle cx="595.8" cy="709.6" r="65.2" fill="none" stroke="#e6be5a" stroke-width="1.5"/>
<circle cx="559.2" cy="774.4" r="65.2" fill="none" stroke="#bf4a4a" stroke-width="1.5"/>
<text x="415" y="653.5" font-size="15.7" fill="#000">MBASED</text>
<text x="637.5" y="654" font-size="15.7" fill="#000">aScan</text>
<text x="626.8" y="807.6" font-size="15.7" fill="#000">BASE</text>
<text x="501.6" y="707.0" font-size="14.2" fill="#000" text-anchor="middle">21</text>
<text x="558.7" y="695.0" font-size="14.2" fill="#000" text-anchor="middle">3</text>
<text x="618.2" y="707.0" font-size="14.2" fill="#000" text-anchor="middle">135</text>
<text x="558.7" y="736.1" font-size="14.2" fill="#000" text-anchor="middle">214</text>
<text x="521.9" y="757.1" font-size="14.2" fill="#000" text-anchor="middle">98</text>
<text x="594.7" y="757.1" font-size="14.2" fill="#000" text-anchor="middle">143</text>
<text x="559.0" y="800.6" font-size="14.2" fill="#000" text-anchor="middle">145</text>
<text x="-0.3" y="647.4" font-size="19.2" font-weight="bold" fill="#000">d</text>
<text x="368.4" y="645.8" font-size="19.2" font-weight="bold" fill="#000">e</text>
</svg></body></html>
